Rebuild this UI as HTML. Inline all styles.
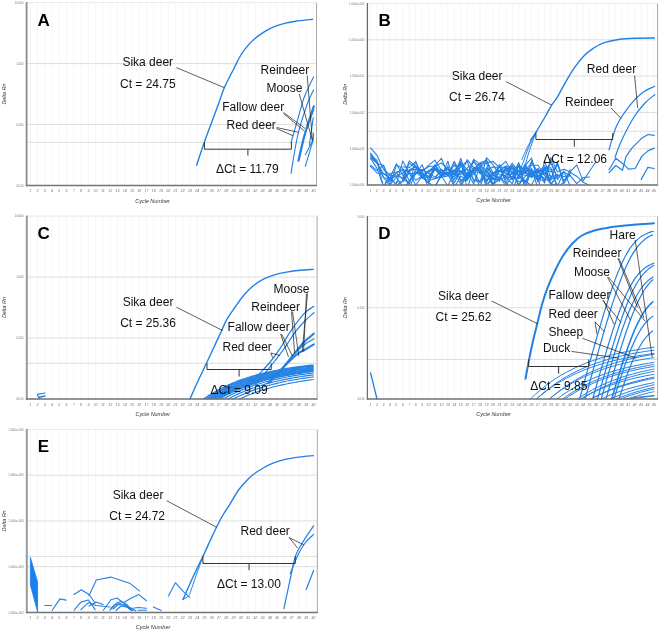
<!DOCTYPE html>
<html><head><meta charset="utf-8"><style>
html,body{margin:0;padding:0;background:#fff;}
svg{display:block;font-family:"Liberation Sans",sans-serif;will-change:transform;}
</style></head><body>
<svg width="660" height="632" viewBox="0 0 660 632">
<rect width="660" height="632" fill="#fff"/>
<path d="M30.30 2.70V185.50M37.56 2.70V185.50M44.82 2.70V185.50M52.08 2.70V185.50M59.34 2.70V185.50M66.60 2.70V185.50M73.86 2.70V185.50M81.12 2.70V185.50M88.38 2.70V185.50M95.64 2.70V185.50M102.90 2.70V185.50M110.16 2.70V185.50M117.42 2.70V185.50M124.68 2.70V185.50M131.94 2.70V185.50M139.20 2.70V185.50M146.46 2.70V185.50M153.72 2.70V185.50M160.98 2.70V185.50M168.24 2.70V185.50M175.50 2.70V185.50M182.76 2.70V185.50M190.02 2.70V185.50M197.28 2.70V185.50M204.54 2.70V185.50M211.80 2.70V185.50M219.06 2.70V185.50M226.32 2.70V185.50M233.58 2.70V185.50M240.84 2.70V185.50M248.10 2.70V185.50M255.36 2.70V185.50M262.62 2.70V185.50M269.88 2.70V185.50M277.14 2.70V185.50M284.40 2.70V185.50M291.66 2.70V185.50M298.92 2.70V185.50M306.18 2.70V185.50M313.44 2.70V185.50" stroke="#f6f6f6" stroke-width="1" fill="none"/>
<path d="M26.50 63.63H316.50M26.50 124.57H316.50M26.50 185.50H316.50" stroke="#dedede" stroke-width="1" fill="none"/>
<path d="M26.50 142.30H316.50" stroke="#d8dfd8" stroke-width="1" fill="none"/>
<path d="M316.50 2.70V185.50" stroke="#a8a8a8" stroke-width="1" fill="none"/>
<text x="23.40" y="3.80" font-size="2.9" text-anchor="end" fill="#777">10.000</text>
<text x="23.40" y="64.73" font-size="2.9" text-anchor="end" fill="#777">1.000</text>
<text x="23.40" y="125.67" font-size="2.9" text-anchor="end" fill="#777">0.100</text>
<text x="23.40" y="186.60" font-size="2.9" text-anchor="end" fill="#777">0.010</text>
<text x="30.30" y="192.00" font-size="3.6" font-style="italic" text-anchor="middle" fill="#777">1</text>
<text x="37.56" y="192.00" font-size="3.6" font-style="italic" text-anchor="middle" fill="#777">2</text>
<text x="44.82" y="192.00" font-size="3.6" font-style="italic" text-anchor="middle" fill="#777">3</text>
<text x="52.08" y="192.00" font-size="3.6" font-style="italic" text-anchor="middle" fill="#777">4</text>
<text x="59.34" y="192.00" font-size="3.6" font-style="italic" text-anchor="middle" fill="#777">5</text>
<text x="66.60" y="192.00" font-size="3.6" font-style="italic" text-anchor="middle" fill="#777">6</text>
<text x="73.86" y="192.00" font-size="3.6" font-style="italic" text-anchor="middle" fill="#777">7</text>
<text x="81.12" y="192.00" font-size="3.6" font-style="italic" text-anchor="middle" fill="#777">8</text>
<text x="88.38" y="192.00" font-size="3.6" font-style="italic" text-anchor="middle" fill="#777">9</text>
<text x="95.64" y="192.00" font-size="3.6" font-style="italic" text-anchor="middle" fill="#777">10</text>
<text x="102.90" y="192.00" font-size="3.6" font-style="italic" text-anchor="middle" fill="#777">11</text>
<text x="110.16" y="192.00" font-size="3.6" font-style="italic" text-anchor="middle" fill="#777">12</text>
<text x="117.42" y="192.00" font-size="3.6" font-style="italic" text-anchor="middle" fill="#777">13</text>
<text x="124.68" y="192.00" font-size="3.6" font-style="italic" text-anchor="middle" fill="#777">14</text>
<text x="131.94" y="192.00" font-size="3.6" font-style="italic" text-anchor="middle" fill="#777">15</text>
<text x="139.20" y="192.00" font-size="3.6" font-style="italic" text-anchor="middle" fill="#777">16</text>
<text x="146.46" y="192.00" font-size="3.6" font-style="italic" text-anchor="middle" fill="#777">17</text>
<text x="153.72" y="192.00" font-size="3.6" font-style="italic" text-anchor="middle" fill="#777">18</text>
<text x="160.98" y="192.00" font-size="3.6" font-style="italic" text-anchor="middle" fill="#777">19</text>
<text x="168.24" y="192.00" font-size="3.6" font-style="italic" text-anchor="middle" fill="#777">20</text>
<text x="175.50" y="192.00" font-size="3.6" font-style="italic" text-anchor="middle" fill="#777">21</text>
<text x="182.76" y="192.00" font-size="3.6" font-style="italic" text-anchor="middle" fill="#777">22</text>
<text x="190.02" y="192.00" font-size="3.6" font-style="italic" text-anchor="middle" fill="#777">23</text>
<text x="197.28" y="192.00" font-size="3.6" font-style="italic" text-anchor="middle" fill="#777">24</text>
<text x="204.54" y="192.00" font-size="3.6" font-style="italic" text-anchor="middle" fill="#777">25</text>
<text x="211.80" y="192.00" font-size="3.6" font-style="italic" text-anchor="middle" fill="#777">26</text>
<text x="219.06" y="192.00" font-size="3.6" font-style="italic" text-anchor="middle" fill="#777">27</text>
<text x="226.32" y="192.00" font-size="3.6" font-style="italic" text-anchor="middle" fill="#777">28</text>
<text x="233.58" y="192.00" font-size="3.6" font-style="italic" text-anchor="middle" fill="#777">29</text>
<text x="240.84" y="192.00" font-size="3.6" font-style="italic" text-anchor="middle" fill="#777">30</text>
<text x="248.10" y="192.00" font-size="3.6" font-style="italic" text-anchor="middle" fill="#777">31</text>
<text x="255.36" y="192.00" font-size="3.6" font-style="italic" text-anchor="middle" fill="#777">32</text>
<text x="262.62" y="192.00" font-size="3.6" font-style="italic" text-anchor="middle" fill="#777">33</text>
<text x="269.88" y="192.00" font-size="3.6" font-style="italic" text-anchor="middle" fill="#777">34</text>
<text x="277.14" y="192.00" font-size="3.6" font-style="italic" text-anchor="middle" fill="#777">35</text>
<text x="284.40" y="192.00" font-size="3.6" font-style="italic" text-anchor="middle" fill="#777">36</text>
<text x="291.66" y="192.00" font-size="3.6" font-style="italic" text-anchor="middle" fill="#777">37</text>
<text x="298.92" y="192.00" font-size="3.6" font-style="italic" text-anchor="middle" fill="#777">38</text>
<text x="306.18" y="192.00" font-size="3.6" font-style="italic" text-anchor="middle" fill="#777">39</text>
<text x="313.44" y="192.00" font-size="3.6" font-style="italic" text-anchor="middle" fill="#777">40</text>
<text transform="translate(6.00 94.10) rotate(-90)" font-size="5.4" font-style="italic" text-anchor="middle" fill="#333">Delta Rn</text>
<text x="152.50" y="202.50" font-size="5.45" font-style="italic" text-anchor="middle" fill="#333">Cycle Number</text>
<path d="M370.60 3.50V185.00M377.04 3.50V185.00M383.48 3.50V185.00M389.92 3.50V185.00M396.36 3.50V185.00M402.80 3.50V185.00M409.24 3.50V185.00M415.68 3.50V185.00M422.12 3.50V185.00M428.56 3.50V185.00M435.00 3.50V185.00M441.44 3.50V185.00M447.88 3.50V185.00M454.32 3.50V185.00M460.76 3.50V185.00M467.20 3.50V185.00M473.64 3.50V185.00M480.08 3.50V185.00M486.52 3.50V185.00M492.96 3.50V185.00M499.40 3.50V185.00M505.84 3.50V185.00M512.28 3.50V185.00M518.72 3.50V185.00M525.16 3.50V185.00M531.60 3.50V185.00M538.04 3.50V185.00M544.48 3.50V185.00M550.92 3.50V185.00M557.36 3.50V185.00M563.80 3.50V185.00M570.24 3.50V185.00M576.68 3.50V185.00M583.12 3.50V185.00M589.56 3.50V185.00M596.00 3.50V185.00M602.44 3.50V185.00M608.88 3.50V185.00M615.32 3.50V185.00M621.76 3.50V185.00M628.20 3.50V185.00M634.64 3.50V185.00M641.08 3.50V185.00M647.52 3.50V185.00M653.96 3.50V185.00" stroke="#f6f6f6" stroke-width="1" fill="none"/>
<path d="M367.50 39.80H657.60M367.50 76.10H657.60M367.50 112.40H657.60M367.50 148.70H657.60M367.50 185.00H657.60" stroke="#dedede" stroke-width="1" fill="none"/>
<path d="M367.50 131.30H657.60" stroke="#d8dfd8" stroke-width="1" fill="none"/>
<path d="M657.60 3.50V185.00" stroke="#a8a8a8" stroke-width="1" fill="none"/>
<text x="364.40" y="4.60" font-size="2.9" text-anchor="end" fill="#777">1.000e+001</text>
<text x="364.40" y="40.90" font-size="2.9" text-anchor="end" fill="#777">1.000e+000</text>
<text x="364.40" y="77.20" font-size="2.9" text-anchor="end" fill="#777">1.000e-001</text>
<text x="364.40" y="113.50" font-size="2.9" text-anchor="end" fill="#777">1.000e-002</text>
<text x="364.40" y="149.80" font-size="2.9" text-anchor="end" fill="#777">1.000e-003</text>
<text x="364.40" y="186.10" font-size="2.9" text-anchor="end" fill="#777">1.000e-004</text>
<text x="370.60" y="191.50" font-size="3.6" font-style="italic" text-anchor="middle" fill="#777">1</text>
<text x="377.04" y="191.50" font-size="3.6" font-style="italic" text-anchor="middle" fill="#777">2</text>
<text x="383.48" y="191.50" font-size="3.6" font-style="italic" text-anchor="middle" fill="#777">3</text>
<text x="389.92" y="191.50" font-size="3.6" font-style="italic" text-anchor="middle" fill="#777">4</text>
<text x="396.36" y="191.50" font-size="3.6" font-style="italic" text-anchor="middle" fill="#777">5</text>
<text x="402.80" y="191.50" font-size="3.6" font-style="italic" text-anchor="middle" fill="#777">6</text>
<text x="409.24" y="191.50" font-size="3.6" font-style="italic" text-anchor="middle" fill="#777">7</text>
<text x="415.68" y="191.50" font-size="3.6" font-style="italic" text-anchor="middle" fill="#777">8</text>
<text x="422.12" y="191.50" font-size="3.6" font-style="italic" text-anchor="middle" fill="#777">9</text>
<text x="428.56" y="191.50" font-size="3.6" font-style="italic" text-anchor="middle" fill="#777">10</text>
<text x="435.00" y="191.50" font-size="3.6" font-style="italic" text-anchor="middle" fill="#777">11</text>
<text x="441.44" y="191.50" font-size="3.6" font-style="italic" text-anchor="middle" fill="#777">12</text>
<text x="447.88" y="191.50" font-size="3.6" font-style="italic" text-anchor="middle" fill="#777">13</text>
<text x="454.32" y="191.50" font-size="3.6" font-style="italic" text-anchor="middle" fill="#777">14</text>
<text x="460.76" y="191.50" font-size="3.6" font-style="italic" text-anchor="middle" fill="#777">15</text>
<text x="467.20" y="191.50" font-size="3.6" font-style="italic" text-anchor="middle" fill="#777">16</text>
<text x="473.64" y="191.50" font-size="3.6" font-style="italic" text-anchor="middle" fill="#777">17</text>
<text x="480.08" y="191.50" font-size="3.6" font-style="italic" text-anchor="middle" fill="#777">18</text>
<text x="486.52" y="191.50" font-size="3.6" font-style="italic" text-anchor="middle" fill="#777">19</text>
<text x="492.96" y="191.50" font-size="3.6" font-style="italic" text-anchor="middle" fill="#777">20</text>
<text x="499.40" y="191.50" font-size="3.6" font-style="italic" text-anchor="middle" fill="#777">21</text>
<text x="505.84" y="191.50" font-size="3.6" font-style="italic" text-anchor="middle" fill="#777">22</text>
<text x="512.28" y="191.50" font-size="3.6" font-style="italic" text-anchor="middle" fill="#777">23</text>
<text x="518.72" y="191.50" font-size="3.6" font-style="italic" text-anchor="middle" fill="#777">24</text>
<text x="525.16" y="191.50" font-size="3.6" font-style="italic" text-anchor="middle" fill="#777">25</text>
<text x="531.60" y="191.50" font-size="3.6" font-style="italic" text-anchor="middle" fill="#777">26</text>
<text x="538.04" y="191.50" font-size="3.6" font-style="italic" text-anchor="middle" fill="#777">27</text>
<text x="544.48" y="191.50" font-size="3.6" font-style="italic" text-anchor="middle" fill="#777">28</text>
<text x="550.92" y="191.50" font-size="3.6" font-style="italic" text-anchor="middle" fill="#777">29</text>
<text x="557.36" y="191.50" font-size="3.6" font-style="italic" text-anchor="middle" fill="#777">30</text>
<text x="563.80" y="191.50" font-size="3.6" font-style="italic" text-anchor="middle" fill="#777">31</text>
<text x="570.24" y="191.50" font-size="3.6" font-style="italic" text-anchor="middle" fill="#777">32</text>
<text x="576.68" y="191.50" font-size="3.6" font-style="italic" text-anchor="middle" fill="#777">33</text>
<text x="583.12" y="191.50" font-size="3.6" font-style="italic" text-anchor="middle" fill="#777">34</text>
<text x="589.56" y="191.50" font-size="3.6" font-style="italic" text-anchor="middle" fill="#777">35</text>
<text x="596.00" y="191.50" font-size="3.6" font-style="italic" text-anchor="middle" fill="#777">36</text>
<text x="602.44" y="191.50" font-size="3.6" font-style="italic" text-anchor="middle" fill="#777">37</text>
<text x="608.88" y="191.50" font-size="3.6" font-style="italic" text-anchor="middle" fill="#777">38</text>
<text x="615.32" y="191.50" font-size="3.6" font-style="italic" text-anchor="middle" fill="#777">39</text>
<text x="621.76" y="191.50" font-size="3.6" font-style="italic" text-anchor="middle" fill="#777">40</text>
<text x="628.20" y="191.50" font-size="3.6" font-style="italic" text-anchor="middle" fill="#777">41</text>
<text x="634.64" y="191.50" font-size="3.6" font-style="italic" text-anchor="middle" fill="#777">42</text>
<text x="641.08" y="191.50" font-size="3.6" font-style="italic" text-anchor="middle" fill="#777">43</text>
<text x="647.52" y="191.50" font-size="3.6" font-style="italic" text-anchor="middle" fill="#777">44</text>
<text x="653.96" y="191.50" font-size="3.6" font-style="italic" text-anchor="middle" fill="#777">45</text>
<text transform="translate(347.00 94.25) rotate(-90)" font-size="5.4" font-style="italic" text-anchor="middle" fill="#333">Delta Rn</text>
<text x="493.55" y="202.00" font-size="5.45" font-style="italic" text-anchor="middle" fill="#333">Cycle Number</text>
<path d="M30.30 216.10V399.00M37.56 216.10V399.00M44.82 216.10V399.00M52.08 216.10V399.00M59.34 216.10V399.00M66.60 216.10V399.00M73.86 216.10V399.00M81.12 216.10V399.00M88.38 216.10V399.00M95.64 216.10V399.00M102.90 216.10V399.00M110.16 216.10V399.00M117.42 216.10V399.00M124.68 216.10V399.00M131.94 216.10V399.00M139.20 216.10V399.00M146.46 216.10V399.00M153.72 216.10V399.00M160.98 216.10V399.00M168.24 216.10V399.00M175.50 216.10V399.00M182.76 216.10V399.00M190.02 216.10V399.00M197.28 216.10V399.00M204.54 216.10V399.00M211.80 216.10V399.00M219.06 216.10V399.00M226.32 216.10V399.00M233.58 216.10V399.00M240.84 216.10V399.00M248.10 216.10V399.00M255.36 216.10V399.00M262.62 216.10V399.00M269.88 216.10V399.00M277.14 216.10V399.00M284.40 216.10V399.00M291.66 216.10V399.00M298.92 216.10V399.00M306.18 216.10V399.00M313.44 216.10V399.00" stroke="#f6f6f6" stroke-width="1" fill="none"/>
<path d="M26.50 277.07H317.10M26.50 338.03H317.10M26.50 399.00H317.10" stroke="#dedede" stroke-width="1" fill="none"/>
<path d="M26.50 363.30H317.10" stroke="#d8dfd8" stroke-width="1" fill="none"/>
<path d="M317.10 216.10V399.00" stroke="#a8a8a8" stroke-width="1" fill="none"/>
<text x="23.40" y="217.20" font-size="2.9" text-anchor="end" fill="#777">10.000</text>
<text x="23.40" y="278.17" font-size="2.9" text-anchor="end" fill="#777">1.000</text>
<text x="23.40" y="339.13" font-size="2.9" text-anchor="end" fill="#777">0.100</text>
<text x="23.40" y="400.10" font-size="2.9" text-anchor="end" fill="#777">0.010</text>
<text x="30.30" y="405.50" font-size="3.6" font-style="italic" text-anchor="middle" fill="#777">1</text>
<text x="37.56" y="405.50" font-size="3.6" font-style="italic" text-anchor="middle" fill="#777">2</text>
<text x="44.82" y="405.50" font-size="3.6" font-style="italic" text-anchor="middle" fill="#777">3</text>
<text x="52.08" y="405.50" font-size="3.6" font-style="italic" text-anchor="middle" fill="#777">4</text>
<text x="59.34" y="405.50" font-size="3.6" font-style="italic" text-anchor="middle" fill="#777">5</text>
<text x="66.60" y="405.50" font-size="3.6" font-style="italic" text-anchor="middle" fill="#777">6</text>
<text x="73.86" y="405.50" font-size="3.6" font-style="italic" text-anchor="middle" fill="#777">7</text>
<text x="81.12" y="405.50" font-size="3.6" font-style="italic" text-anchor="middle" fill="#777">8</text>
<text x="88.38" y="405.50" font-size="3.6" font-style="italic" text-anchor="middle" fill="#777">9</text>
<text x="95.64" y="405.50" font-size="3.6" font-style="italic" text-anchor="middle" fill="#777">10</text>
<text x="102.90" y="405.50" font-size="3.6" font-style="italic" text-anchor="middle" fill="#777">11</text>
<text x="110.16" y="405.50" font-size="3.6" font-style="italic" text-anchor="middle" fill="#777">12</text>
<text x="117.42" y="405.50" font-size="3.6" font-style="italic" text-anchor="middle" fill="#777">13</text>
<text x="124.68" y="405.50" font-size="3.6" font-style="italic" text-anchor="middle" fill="#777">14</text>
<text x="131.94" y="405.50" font-size="3.6" font-style="italic" text-anchor="middle" fill="#777">15</text>
<text x="139.20" y="405.50" font-size="3.6" font-style="italic" text-anchor="middle" fill="#777">16</text>
<text x="146.46" y="405.50" font-size="3.6" font-style="italic" text-anchor="middle" fill="#777">17</text>
<text x="153.72" y="405.50" font-size="3.6" font-style="italic" text-anchor="middle" fill="#777">18</text>
<text x="160.98" y="405.50" font-size="3.6" font-style="italic" text-anchor="middle" fill="#777">19</text>
<text x="168.24" y="405.50" font-size="3.6" font-style="italic" text-anchor="middle" fill="#777">20</text>
<text x="175.50" y="405.50" font-size="3.6" font-style="italic" text-anchor="middle" fill="#777">21</text>
<text x="182.76" y="405.50" font-size="3.6" font-style="italic" text-anchor="middle" fill="#777">22</text>
<text x="190.02" y="405.50" font-size="3.6" font-style="italic" text-anchor="middle" fill="#777">23</text>
<text x="197.28" y="405.50" font-size="3.6" font-style="italic" text-anchor="middle" fill="#777">24</text>
<text x="204.54" y="405.50" font-size="3.6" font-style="italic" text-anchor="middle" fill="#777">25</text>
<text x="211.80" y="405.50" font-size="3.6" font-style="italic" text-anchor="middle" fill="#777">26</text>
<text x="219.06" y="405.50" font-size="3.6" font-style="italic" text-anchor="middle" fill="#777">27</text>
<text x="226.32" y="405.50" font-size="3.6" font-style="italic" text-anchor="middle" fill="#777">28</text>
<text x="233.58" y="405.50" font-size="3.6" font-style="italic" text-anchor="middle" fill="#777">29</text>
<text x="240.84" y="405.50" font-size="3.6" font-style="italic" text-anchor="middle" fill="#777">30</text>
<text x="248.10" y="405.50" font-size="3.6" font-style="italic" text-anchor="middle" fill="#777">31</text>
<text x="255.36" y="405.50" font-size="3.6" font-style="italic" text-anchor="middle" fill="#777">32</text>
<text x="262.62" y="405.50" font-size="3.6" font-style="italic" text-anchor="middle" fill="#777">33</text>
<text x="269.88" y="405.50" font-size="3.6" font-style="italic" text-anchor="middle" fill="#777">34</text>
<text x="277.14" y="405.50" font-size="3.6" font-style="italic" text-anchor="middle" fill="#777">35</text>
<text x="284.40" y="405.50" font-size="3.6" font-style="italic" text-anchor="middle" fill="#777">36</text>
<text x="291.66" y="405.50" font-size="3.6" font-style="italic" text-anchor="middle" fill="#777">37</text>
<text x="298.92" y="405.50" font-size="3.6" font-style="italic" text-anchor="middle" fill="#777">38</text>
<text x="306.18" y="405.50" font-size="3.6" font-style="italic" text-anchor="middle" fill="#777">39</text>
<text x="313.44" y="405.50" font-size="3.6" font-style="italic" text-anchor="middle" fill="#777">40</text>
<text transform="translate(6.00 307.55) rotate(-90)" font-size="5.4" font-style="italic" text-anchor="middle" fill="#333">Delta Rn</text>
<text x="152.80" y="416.00" font-size="5.45" font-style="italic" text-anchor="middle" fill="#333">Cycle Number</text>
<path d="M370.60 216.40V399.00M377.04 216.40V399.00M383.48 216.40V399.00M389.92 216.40V399.00M396.36 216.40V399.00M402.80 216.40V399.00M409.24 216.40V399.00M415.68 216.40V399.00M422.12 216.40V399.00M428.56 216.40V399.00M435.00 216.40V399.00M441.44 216.40V399.00M447.88 216.40V399.00M454.32 216.40V399.00M460.76 216.40V399.00M467.20 216.40V399.00M473.64 216.40V399.00M480.08 216.40V399.00M486.52 216.40V399.00M492.96 216.40V399.00M499.40 216.40V399.00M505.84 216.40V399.00M512.28 216.40V399.00M518.72 216.40V399.00M525.16 216.40V399.00M531.60 216.40V399.00M538.04 216.40V399.00M544.48 216.40V399.00M550.92 216.40V399.00M557.36 216.40V399.00M563.80 216.40V399.00M570.24 216.40V399.00M576.68 216.40V399.00M583.12 216.40V399.00M589.56 216.40V399.00M596.00 216.40V399.00M602.44 216.40V399.00M608.88 216.40V399.00M615.32 216.40V399.00M621.76 216.40V399.00M628.20 216.40V399.00M634.64 216.40V399.00M641.08 216.40V399.00M647.52 216.40V399.00M653.96 216.40V399.00" stroke="#f6f6f6" stroke-width="1" fill="none"/>
<path d="M367.50 307.70H657.60M367.50 399.00H657.60" stroke="#dedede" stroke-width="1" fill="none"/>
<path d="M367.50 359.50H657.60" stroke="#d8dfd8" stroke-width="1" fill="none"/>
<path d="M657.60 216.40V399.00" stroke="#a8a8a8" stroke-width="1" fill="none"/>
<text x="364.40" y="217.50" font-size="2.9" text-anchor="end" fill="#777">1.000</text>
<text x="364.40" y="308.80" font-size="2.9" text-anchor="end" fill="#777">0.100</text>
<text x="364.40" y="400.10" font-size="2.9" text-anchor="end" fill="#777">0.010</text>
<text x="370.60" y="405.50" font-size="3.6" font-style="italic" text-anchor="middle" fill="#777">1</text>
<text x="377.04" y="405.50" font-size="3.6" font-style="italic" text-anchor="middle" fill="#777">2</text>
<text x="383.48" y="405.50" font-size="3.6" font-style="italic" text-anchor="middle" fill="#777">3</text>
<text x="389.92" y="405.50" font-size="3.6" font-style="italic" text-anchor="middle" fill="#777">4</text>
<text x="396.36" y="405.50" font-size="3.6" font-style="italic" text-anchor="middle" fill="#777">5</text>
<text x="402.80" y="405.50" font-size="3.6" font-style="italic" text-anchor="middle" fill="#777">6</text>
<text x="409.24" y="405.50" font-size="3.6" font-style="italic" text-anchor="middle" fill="#777">7</text>
<text x="415.68" y="405.50" font-size="3.6" font-style="italic" text-anchor="middle" fill="#777">8</text>
<text x="422.12" y="405.50" font-size="3.6" font-style="italic" text-anchor="middle" fill="#777">9</text>
<text x="428.56" y="405.50" font-size="3.6" font-style="italic" text-anchor="middle" fill="#777">10</text>
<text x="435.00" y="405.50" font-size="3.6" font-style="italic" text-anchor="middle" fill="#777">11</text>
<text x="441.44" y="405.50" font-size="3.6" font-style="italic" text-anchor="middle" fill="#777">12</text>
<text x="447.88" y="405.50" font-size="3.6" font-style="italic" text-anchor="middle" fill="#777">13</text>
<text x="454.32" y="405.50" font-size="3.6" font-style="italic" text-anchor="middle" fill="#777">14</text>
<text x="460.76" y="405.50" font-size="3.6" font-style="italic" text-anchor="middle" fill="#777">15</text>
<text x="467.20" y="405.50" font-size="3.6" font-style="italic" text-anchor="middle" fill="#777">16</text>
<text x="473.64" y="405.50" font-size="3.6" font-style="italic" text-anchor="middle" fill="#777">17</text>
<text x="480.08" y="405.50" font-size="3.6" font-style="italic" text-anchor="middle" fill="#777">18</text>
<text x="486.52" y="405.50" font-size="3.6" font-style="italic" text-anchor="middle" fill="#777">19</text>
<text x="492.96" y="405.50" font-size="3.6" font-style="italic" text-anchor="middle" fill="#777">20</text>
<text x="499.40" y="405.50" font-size="3.6" font-style="italic" text-anchor="middle" fill="#777">21</text>
<text x="505.84" y="405.50" font-size="3.6" font-style="italic" text-anchor="middle" fill="#777">22</text>
<text x="512.28" y="405.50" font-size="3.6" font-style="italic" text-anchor="middle" fill="#777">23</text>
<text x="518.72" y="405.50" font-size="3.6" font-style="italic" text-anchor="middle" fill="#777">24</text>
<text x="525.16" y="405.50" font-size="3.6" font-style="italic" text-anchor="middle" fill="#777">25</text>
<text x="531.60" y="405.50" font-size="3.6" font-style="italic" text-anchor="middle" fill="#777">26</text>
<text x="538.04" y="405.50" font-size="3.6" font-style="italic" text-anchor="middle" fill="#777">27</text>
<text x="544.48" y="405.50" font-size="3.6" font-style="italic" text-anchor="middle" fill="#777">28</text>
<text x="550.92" y="405.50" font-size="3.6" font-style="italic" text-anchor="middle" fill="#777">29</text>
<text x="557.36" y="405.50" font-size="3.6" font-style="italic" text-anchor="middle" fill="#777">30</text>
<text x="563.80" y="405.50" font-size="3.6" font-style="italic" text-anchor="middle" fill="#777">31</text>
<text x="570.24" y="405.50" font-size="3.6" font-style="italic" text-anchor="middle" fill="#777">32</text>
<text x="576.68" y="405.50" font-size="3.6" font-style="italic" text-anchor="middle" fill="#777">33</text>
<text x="583.12" y="405.50" font-size="3.6" font-style="italic" text-anchor="middle" fill="#777">34</text>
<text x="589.56" y="405.50" font-size="3.6" font-style="italic" text-anchor="middle" fill="#777">35</text>
<text x="596.00" y="405.50" font-size="3.6" font-style="italic" text-anchor="middle" fill="#777">36</text>
<text x="602.44" y="405.50" font-size="3.6" font-style="italic" text-anchor="middle" fill="#777">37</text>
<text x="608.88" y="405.50" font-size="3.6" font-style="italic" text-anchor="middle" fill="#777">38</text>
<text x="615.32" y="405.50" font-size="3.6" font-style="italic" text-anchor="middle" fill="#777">39</text>
<text x="621.76" y="405.50" font-size="3.6" font-style="italic" text-anchor="middle" fill="#777">40</text>
<text x="628.20" y="405.50" font-size="3.6" font-style="italic" text-anchor="middle" fill="#777">41</text>
<text x="634.64" y="405.50" font-size="3.6" font-style="italic" text-anchor="middle" fill="#777">42</text>
<text x="641.08" y="405.50" font-size="3.6" font-style="italic" text-anchor="middle" fill="#777">43</text>
<text x="647.52" y="405.50" font-size="3.6" font-style="italic" text-anchor="middle" fill="#777">44</text>
<text x="653.96" y="405.50" font-size="3.6" font-style="italic" text-anchor="middle" fill="#777">45</text>
<text transform="translate(347.00 307.70) rotate(-90)" font-size="5.4" font-style="italic" text-anchor="middle" fill="#333">Delta Rn</text>
<text x="493.55" y="416.00" font-size="5.45" font-style="italic" text-anchor="middle" fill="#333">Cycle Number</text>
<path d="M30.30 429.40V612.40M37.56 429.40V612.40M44.82 429.40V612.40M52.08 429.40V612.40M59.34 429.40V612.40M66.60 429.40V612.40M73.86 429.40V612.40M81.12 429.40V612.40M88.38 429.40V612.40M95.64 429.40V612.40M102.90 429.40V612.40M110.16 429.40V612.40M117.42 429.40V612.40M124.68 429.40V612.40M131.94 429.40V612.40M139.20 429.40V612.40M146.46 429.40V612.40M153.72 429.40V612.40M160.98 429.40V612.40M168.24 429.40V612.40M175.50 429.40V612.40M182.76 429.40V612.40M190.02 429.40V612.40M197.28 429.40V612.40M204.54 429.40V612.40M211.80 429.40V612.40M219.06 429.40V612.40M226.32 429.40V612.40M233.58 429.40V612.40M240.84 429.40V612.40M248.10 429.40V612.40M255.36 429.40V612.40M262.62 429.40V612.40M269.88 429.40V612.40M277.14 429.40V612.40M284.40 429.40V612.40M291.66 429.40V612.40M298.92 429.40V612.40M306.18 429.40V612.40M313.44 429.40V612.40" stroke="#f6f6f6" stroke-width="1" fill="none"/>
<path d="M26.70 475.15H317.30M26.70 520.90H317.30M26.70 566.65H317.30M26.70 612.40H317.30" stroke="#dedede" stroke-width="1" fill="none"/>
<path d="M26.70 556.40H317.30" stroke="#d8dfd8" stroke-width="1" fill="none"/>
<path d="M317.30 429.40V612.40" stroke="#a8a8a8" stroke-width="1" fill="none"/>
<text x="23.60" y="430.50" font-size="2.9" text-anchor="end" fill="#777">1.000e+006</text>
<text x="23.60" y="476.25" font-size="2.9" text-anchor="end" fill="#777">1.000e+005</text>
<text x="23.60" y="522.00" font-size="2.9" text-anchor="end" fill="#777">1.000e+004</text>
<text x="23.60" y="567.75" font-size="2.9" text-anchor="end" fill="#777">1.000e+003</text>
<text x="23.60" y="613.50" font-size="2.9" text-anchor="end" fill="#777">1.000e+002</text>
<text x="30.30" y="618.90" font-size="3.6" font-style="italic" text-anchor="middle" fill="#777">1</text>
<text x="37.56" y="618.90" font-size="3.6" font-style="italic" text-anchor="middle" fill="#777">2</text>
<text x="44.82" y="618.90" font-size="3.6" font-style="italic" text-anchor="middle" fill="#777">3</text>
<text x="52.08" y="618.90" font-size="3.6" font-style="italic" text-anchor="middle" fill="#777">4</text>
<text x="59.34" y="618.90" font-size="3.6" font-style="italic" text-anchor="middle" fill="#777">5</text>
<text x="66.60" y="618.90" font-size="3.6" font-style="italic" text-anchor="middle" fill="#777">6</text>
<text x="73.86" y="618.90" font-size="3.6" font-style="italic" text-anchor="middle" fill="#777">7</text>
<text x="81.12" y="618.90" font-size="3.6" font-style="italic" text-anchor="middle" fill="#777">8</text>
<text x="88.38" y="618.90" font-size="3.6" font-style="italic" text-anchor="middle" fill="#777">9</text>
<text x="95.64" y="618.90" font-size="3.6" font-style="italic" text-anchor="middle" fill="#777">10</text>
<text x="102.90" y="618.90" font-size="3.6" font-style="italic" text-anchor="middle" fill="#777">11</text>
<text x="110.16" y="618.90" font-size="3.6" font-style="italic" text-anchor="middle" fill="#777">12</text>
<text x="117.42" y="618.90" font-size="3.6" font-style="italic" text-anchor="middle" fill="#777">13</text>
<text x="124.68" y="618.90" font-size="3.6" font-style="italic" text-anchor="middle" fill="#777">14</text>
<text x="131.94" y="618.90" font-size="3.6" font-style="italic" text-anchor="middle" fill="#777">15</text>
<text x="139.20" y="618.90" font-size="3.6" font-style="italic" text-anchor="middle" fill="#777">16</text>
<text x="146.46" y="618.90" font-size="3.6" font-style="italic" text-anchor="middle" fill="#777">17</text>
<text x="153.72" y="618.90" font-size="3.6" font-style="italic" text-anchor="middle" fill="#777">18</text>
<text x="160.98" y="618.90" font-size="3.6" font-style="italic" text-anchor="middle" fill="#777">19</text>
<text x="168.24" y="618.90" font-size="3.6" font-style="italic" text-anchor="middle" fill="#777">20</text>
<text x="175.50" y="618.90" font-size="3.6" font-style="italic" text-anchor="middle" fill="#777">21</text>
<text x="182.76" y="618.90" font-size="3.6" font-style="italic" text-anchor="middle" fill="#777">22</text>
<text x="190.02" y="618.90" font-size="3.6" font-style="italic" text-anchor="middle" fill="#777">23</text>
<text x="197.28" y="618.90" font-size="3.6" font-style="italic" text-anchor="middle" fill="#777">24</text>
<text x="204.54" y="618.90" font-size="3.6" font-style="italic" text-anchor="middle" fill="#777">25</text>
<text x="211.80" y="618.90" font-size="3.6" font-style="italic" text-anchor="middle" fill="#777">26</text>
<text x="219.06" y="618.90" font-size="3.6" font-style="italic" text-anchor="middle" fill="#777">27</text>
<text x="226.32" y="618.90" font-size="3.6" font-style="italic" text-anchor="middle" fill="#777">28</text>
<text x="233.58" y="618.90" font-size="3.6" font-style="italic" text-anchor="middle" fill="#777">29</text>
<text x="240.84" y="618.90" font-size="3.6" font-style="italic" text-anchor="middle" fill="#777">30</text>
<text x="248.10" y="618.90" font-size="3.6" font-style="italic" text-anchor="middle" fill="#777">31</text>
<text x="255.36" y="618.90" font-size="3.6" font-style="italic" text-anchor="middle" fill="#777">32</text>
<text x="262.62" y="618.90" font-size="3.6" font-style="italic" text-anchor="middle" fill="#777">33</text>
<text x="269.88" y="618.90" font-size="3.6" font-style="italic" text-anchor="middle" fill="#777">34</text>
<text x="277.14" y="618.90" font-size="3.6" font-style="italic" text-anchor="middle" fill="#777">35</text>
<text x="284.40" y="618.90" font-size="3.6" font-style="italic" text-anchor="middle" fill="#777">36</text>
<text x="291.66" y="618.90" font-size="3.6" font-style="italic" text-anchor="middle" fill="#777">37</text>
<text x="298.92" y="618.90" font-size="3.6" font-style="italic" text-anchor="middle" fill="#777">38</text>
<text x="306.18" y="618.90" font-size="3.6" font-style="italic" text-anchor="middle" fill="#777">39</text>
<text x="313.44" y="618.90" font-size="3.6" font-style="italic" text-anchor="middle" fill="#777">40</text>
<text transform="translate(6.20 520.90) rotate(-90)" font-size="5.4" font-style="italic" text-anchor="middle" fill="#333">Delta Rn</text>
<text x="153.00" y="629.40" font-size="5.45" font-style="italic" text-anchor="middle" fill="#333">Cycle Number</text>
<path d="M196.60 165.20 C197.90 161.32 201.80 149.28 204.40 141.90 C207.00 134.52 209.85 127.22 212.20 120.90 C214.55 114.58 216.48 109.53 218.50 104.00 C220.52 98.47 221.67 93.75 224.30 87.70 C226.93 81.65 231.53 73.15 234.30 67.70 C237.07 62.25 238.43 58.93 240.90 55.00 C243.37 51.07 246.37 47.17 249.10 44.10 C251.83 41.03 254.57 38.77 257.30 36.60 C260.03 34.43 262.55 32.80 265.50 31.10 C268.45 29.40 271.82 27.68 275.00 26.40 C278.18 25.12 281.18 24.25 284.60 23.40 C288.02 22.55 290.85 21.98 295.50 21.30 C300.15 20.62 309.67 19.63 312.50 19.30" stroke="#2280e4" stroke-width="1.4" fill="none" stroke-linejoin="round" stroke-linecap="round"/>
<path d="M291.00 173.40 C292.13 167.00 295.15 146.40 297.80 135.00 C300.45 123.60 304.28 112.50 306.90 105.00 C309.52 97.50 312.40 92.50 313.50 90.00" stroke="#2280e4" stroke-width="1.1" fill="none" stroke-linejoin="round" stroke-linecap="round"/>
<path d="M291.00 142.80 C292.80 136.50 299.47 112.92 301.80 105.00 C304.13 97.08 303.05 99.97 305.00 95.30 C306.95 90.63 312.08 80.05 313.50 77.00" stroke="#2280e4" stroke-width="1.1" fill="none" stroke-linejoin="round" stroke-linecap="round"/>
<path d="M298.50 160.60 C299.52 156.33 302.05 144.05 304.60 135.00 C307.15 125.95 312.27 111.08 313.80 106.30" stroke="#2280e4" stroke-width="2.2" fill="none" stroke-linejoin="round" stroke-linecap="round"/>
<path d="M299.50 158.00 C300.50 153.83 303.12 141.00 305.50 133.00 C307.88 125.00 312.42 113.83 313.80 110.00" stroke="#2280e4" stroke-width="1.0" fill="none" stroke-linejoin="round" stroke-linecap="round"/>
<path d="M305.30 154.60 C306.53 152.22 311.33 143.90 312.70 140.30 C314.07 136.70 313.37 134.22 313.50 133.00" stroke="#2280e4" stroke-width="1.1" fill="none" stroke-linejoin="round" stroke-linecap="round"/>
<path d="M305.30 166.30 L313.10 140.30" stroke="#2280e4" stroke-width="1.1" fill="none" stroke-linejoin="round" stroke-linecap="round"/>
<path d="M309.40 145.00 L313.20 117.70" stroke="#2280e4" stroke-width="1.1" fill="none" stroke-linejoin="round" stroke-linecap="round"/>
<path d="M176.40 67.60 L224.20 87.60" stroke="#1a1a1a" stroke-width="0.7" fill="none"/>
<path d="M307.20 75.40 L312.40 140.50" stroke="#1a1a1a" stroke-width="0.7" fill="none"/>
<path d="M299.30 94.00 L312.40 140.50" stroke="#1a1a1a" stroke-width="0.7" fill="none"/>
<path d="M283.50 112.50 L305.00 128.40" stroke="#1a1a1a" stroke-width="0.7" fill="none"/>
<path d="M283.50 113.50 L304.40 131.00" stroke="#1a1a1a" stroke-width="0.7" fill="none"/>
<path d="M276.50 127.50 L298.00 132.20" stroke="#1a1a1a" stroke-width="0.7" fill="none"/>
<path d="M276.50 128.50 L293.00 135.70" stroke="#1a1a1a" stroke-width="0.7" fill="none"/>
<path d="M204.40 142.30V149.20H291.40V142.30M247.90 149.20V155.50" stroke="#333" stroke-width="1" fill="none"/>
<path d="M530.60 140.10 C531.48 138.82 533.50 136.25 535.90 132.40 C538.30 128.55 542.35 121.58 545.00 117.00 C547.65 112.42 549.87 108.00 551.80 104.90 C553.73 101.80 554.48 101.87 556.60 98.40 C558.72 94.93 561.58 89.13 564.50 84.10 C567.42 79.07 570.92 72.85 574.10 68.20 C577.28 63.55 580.42 59.52 583.60 56.20 C586.78 52.88 589.75 50.55 593.20 48.30 C596.65 46.05 600.07 44.17 604.30 42.70 C608.53 41.23 613.57 40.23 618.60 39.50 C623.63 38.77 628.53 38.55 634.50 38.30 C640.47 38.05 651.08 38.05 654.40 38.00" stroke="#2280e4" stroke-width="1.4" fill="none" stroke-linejoin="round" stroke-linecap="round"/>
<path d="M517.60 177.90 C518.67 174.92 521.93 165.65 524.00 160.00 C526.07 154.35 528.02 148.60 530.00 144.00 C531.98 139.40 534.92 134.33 535.90 132.40" stroke="#2280e4" stroke-width="1" fill="none" stroke-linejoin="round" stroke-linecap="round"/>
<path d="M521.80 159.70 C522.83 157.42 525.65 150.55 528.00 146.00 C530.35 141.45 534.58 134.67 535.90 132.40" stroke="#2280e4" stroke-width="1" fill="none" stroke-linejoin="round" stroke-linecap="round"/>
<path d="M524.00 170.00 C524.83 167.00 527.02 158.27 529.00 152.00 C530.98 145.73 534.75 135.67 535.90 132.40" stroke="#2280e4" stroke-width="1" fill="none" stroke-linejoin="round" stroke-linecap="round"/>
<path d="M609.00 149.70 C610.33 145.58 613.45 132.47 617.00 125.00 C620.55 117.53 626.13 110.23 630.30 104.90 C634.47 99.57 637.93 96.12 642.00 93.00 C646.07 89.88 652.58 87.33 654.70 86.20" stroke="#2280e4" stroke-width="1.2" fill="none" stroke-linejoin="round" stroke-linecap="round"/>
<path d="M615.00 157.40 C616.13 154.50 618.63 146.73 621.80 140.00 C624.97 133.27 630.13 123.17 634.00 117.00 C637.87 110.83 641.55 106.72 645.00 103.00 C648.45 99.28 653.08 96.08 654.70 94.70" stroke="#2280e4" stroke-width="1.2" fill="none" stroke-linejoin="round" stroke-linecap="round"/>
<path d="M609.10 169.70 L615.80 158.20 L624.20 164.80 L628.50 169.10 L635.20 168.50 L641.80 156.40 L647.90 150.90 L654.20 148.10" stroke="#2280e4" stroke-width="1.2" fill="none" stroke-linejoin="round" stroke-linecap="round"/>
<path d="M609.10 172.70 L615.80 165.50 L622.40 170.30 L626.10 156.40 L632.10 147.90 L641.80 138.20 L647.90 134.50 L654.20 135.40" stroke="#2280e4" stroke-width="1.2" fill="none" stroke-linejoin="round" stroke-linecap="round"/>
<path d="M641.20 179.40 L647.90 167.30 L654.20 168.50" stroke="#2280e4" stroke-width="1.2" fill="none" stroke-linejoin="round" stroke-linecap="round"/>
<path d="M370.60 158.41 L377.04 168.36 L382.98 185.00" stroke="#2280e4" stroke-width="1.05" fill="none" stroke-linejoin="round" stroke-linecap="round"/>
<path d="M384.60 185.00 L389.92 178.38 L396.36 184.11 L402.80 160.97 L409.24 172.92 L415.62 185.00" stroke="#2280e4" stroke-width="1.05" fill="none" stroke-linejoin="round" stroke-linecap="round"/>
<path d="M415.76 185.00 L422.12 176.34 L428.56 183.21 L435.00 164.85 L441.44 172.97 L447.88 168.58 L454.32 174.29 L460.76 174.85 L467.20 159.67 L473.64 167.86 L480.08 169.33 L486.52 183.84 L492.96 179.03 L499.40 166.32 L505.84 179.86 L512.28 165.69 L518.72 175.70 L525.16 165.30 L531.60 157.98 L538.04 182.13 L544.48 167.67 L550.92 167.83 L556.48 185.00" stroke="#2280e4" stroke-width="1.05" fill="none" stroke-linejoin="round" stroke-linecap="round"/>
<path d="M560.51 185.00 L563.80 182.16 L570.24 169.55" stroke="#2280e4" stroke-width="1.05" fill="none" stroke-linejoin="round" stroke-linecap="round"/>
<path d="M370.60 154.52 L377.04 163.30 L383.48 165.73 L389.92 184.99 L396.36 177.24 L401.77 185.00" stroke="#2280e4" stroke-width="1.05" fill="none" stroke-linejoin="round" stroke-linecap="round"/>
<path d="M405.49 185.00 L409.24 182.94 L415.68 169.75 L422.12 171.02 L428.56 166.50 L435.00 165.90 L441.44 162.95 L447.88 169.80 L454.32 175.41 L460.76 158.36 L467.20 176.96 L473.64 170.56 L480.08 169.99 L486.52 180.46 L492.96 173.17 L499.40 170.11 L505.84 173.18 L512.28 177.56 L518.72 162.57 L524.61 185.00" stroke="#2280e4" stroke-width="1.05" fill="none" stroke-linejoin="round" stroke-linecap="round"/>
<path d="M525.67 185.00 L531.60 160.53 L538.04 178.63 L544.48 181.26 L550.92 160.14 L557.36 179.60 L563.80 171.11" stroke="#2280e4" stroke-width="1.05" fill="none" stroke-linejoin="round" stroke-linecap="round"/>
<path d="M370.60 153.13 L377.04 162.21 L383.48 177.46 L389.36 185.00" stroke="#2280e4" stroke-width="1.05" fill="none" stroke-linejoin="round" stroke-linecap="round"/>
<path d="M390.14 185.00 L396.36 165.05 L402.80 168.57 L409.24 180.49 L415.68 172.86 L422.12 173.73 L428.56 182.90 L435.00 168.68 L441.44 172.87 L447.88 175.15 L454.32 179.42 L460.76 171.14 L467.20 169.69 L473.64 172.35 L479.07 185.00" stroke="#2280e4" stroke-width="1.05" fill="none" stroke-linejoin="round" stroke-linecap="round"/>
<path d="M480.85 185.00 L486.52 167.65 L492.96 173.73 L499.40 171.05 L505.84 165.98 L512.28 169.25 L518.72 177.51 L525.16 164.08 L531.60 177.14 L538.04 169.91 L544.48 179.90" stroke="#2280e4" stroke-width="1.05" fill="none" stroke-linejoin="round" stroke-linecap="round"/>
<path d="M370.60 157.96 L377.04 163.05 L383.48 173.55 L389.92 177.91 L396.36 163.64 L402.80 175.37 L409.24 184.16 L415.68 161.16 L422.12 178.40 L428.56 170.68 L435.00 168.67 L441.44 176.38 L447.88 165.90 L453.60 185.00" stroke="#2280e4" stroke-width="1.05" fill="none" stroke-linejoin="round" stroke-linecap="round"/>
<path d="M455.70 185.00 L460.76 176.12 L467.20 179.98 L473.64 170.48 L480.08 167.61 L485.68 185.00" stroke="#2280e4" stroke-width="1.05" fill="none" stroke-linejoin="round" stroke-linecap="round"/>
<path d="M487.82 185.00 L492.96 174.67 L499.40 165.50 L505.84 183.04 L512.28 172.00 L518.72 166.58 L525.16 171.24 L531.60 162.65 L538.04 172.13 L544.48 165.76 L550.92 184.09 L557.36 175.76" stroke="#2280e4" stroke-width="1.05" fill="none" stroke-linejoin="round" stroke-linecap="round"/>
<path d="M370.60 166.47 L377.04 173.00 L383.48 173.67 L389.92 178.13 L396.36 173.14 L402.80 169.58 L409.24 171.82 L415.68 165.93 L422.12 171.32 L427.30 185.00" stroke="#2280e4" stroke-width="1.05" fill="none" stroke-linejoin="round" stroke-linecap="round"/>
<path d="M435.66 185.00 L441.44 175.89 L447.88 173.50 L454.32 170.57 L460.76 163.96 L467.20 169.17 L473.64 179.45 L480.08 181.99 L486.52 171.02 L492.96 179.56 L499.40 179.26 L505.84 177.33 L512.28 176.66 L518.72 178.87 L525.16 171.06 L531.60 177.55 L538.04 169.36 L544.48 173.26 L550.92 179.13 L557.36 177.25" stroke="#2280e4" stroke-width="1.05" fill="none" stroke-linejoin="round" stroke-linecap="round"/>
<path d="M370.60 165.27 L377.04 170.67 L383.48 165.00 L389.92 181.48 L396.36 173.06 L402.80 179.23 L409.24 170.32 L415.68 169.20 L422.12 169.53 L428.56 173.51 L435.00 176.87 L441.44 170.93 L447.88 169.21 L454.32 170.71 L460.76 184.82 L467.20 171.91 L473.64 184.11 L480.08 166.69 L486.52 181.98 L492.96 172.64 L499.40 171.08 L505.84 170.49 L512.28 165.78 L517.97 185.00" stroke="#2280e4" stroke-width="1.05" fill="none" stroke-linejoin="round" stroke-linecap="round"/>
<path d="M519.53 185.00 L525.16 167.40 L531.60 171.03 L538.04 181.54 L544.48 169.40 L550.92 163.55 L557.36 176.81 L563.80 172.05 L570.24 175.69" stroke="#2280e4" stroke-width="1.05" fill="none" stroke-linejoin="round" stroke-linecap="round"/>
<path d="M370.60 156.81 L377.04 163.02 L383.48 177.46 L389.92 179.26 L396.36 176.09 L402.80 177.92 L409.24 160.88 L415.68 166.33 L422.12 172.49 L428.56 176.37 L435.00 167.92 L441.44 177.14 L447.88 175.97 L454.32 161.77 L460.76 173.02 L467.20 168.09 L473.64 162.43 L480.08 165.52 L486.52 170.14 L492.96 166.94 L499.40 167.26 L505.84 161.40 L512.28 172.91 L518.72 171.38 L525.16 175.59 L531.60 175.16 L538.04 168.37 L544.48 183.30 L550.92 157.60 L557.36 171.85 L563.80 169.31 L570.24 171.94 L576.68 164.91 L583.12 180.84 L589.56 171.26 L596.00 161.43" stroke="#2280e4" stroke-width="1.05" fill="none" stroke-linejoin="round" stroke-linecap="round"/>
<path d="M370.60 147.85 L377.04 155.30 L383.48 169.50 L389.92 174.98 L395.80 185.00" stroke="#2280e4" stroke-width="1.05" fill="none" stroke-linejoin="round" stroke-linecap="round"/>
<path d="M397.47 185.00 L402.80 180.46 L409.24 172.10 L415.68 180.30 L422.12 176.20 L428.56 171.18 L435.00 165.79 L441.44 175.27 L447.88 174.66 L453.81 185.00" stroke="#2280e4" stroke-width="1.05" fill="none" stroke-linejoin="round" stroke-linecap="round"/>
<path d="M461.68 185.00 L467.20 175.52 L473.64 170.82 L480.08 182.93 L486.52 157.72 L492.96 164.66 L499.40 174.70 L505.84 175.65 L512.28 165.75 L518.72 175.94 L525.16 182.84 L531.60 171.30 L538.04 172.32 L544.48 168.10 L550.92 169.59 L556.65 185.00" stroke="#2280e4" stroke-width="1.05" fill="none" stroke-linejoin="round" stroke-linecap="round"/>
<path d="M558.15 185.00 L563.80 171.37 L569.75 185.00" stroke="#2280e4" stroke-width="1.05" fill="none" stroke-linejoin="round" stroke-linecap="round"/>
<path d="M370.60 155.50 L377.04 160.10 L382.90 185.00" stroke="#2280e4" stroke-width="1.05" fill="none" stroke-linejoin="round" stroke-linecap="round"/>
<path d="M384.61 185.00 L389.92 173.44 L396.36 172.03 L402.80 170.18 L408.19 185.00" stroke="#2280e4" stroke-width="1.05" fill="none" stroke-linejoin="round" stroke-linecap="round"/>
<path d="M410.52 185.00 L415.68 173.36 L422.12 169.48 L428.56 173.11 L435.00 165.14 L441.44 175.78 L447.88 172.53 L454.32 169.63 L460.76 179.44 L467.20 180.70 L473.64 159.68 L480.08 174.09 L486.52 169.20 L492.96 184.71 L499.40 179.45 L505.84 168.56 L512.28 169.07 L518.72 166.18 L524.18 185.00" stroke="#2280e4" stroke-width="1.05" fill="none" stroke-linejoin="round" stroke-linecap="round"/>
<path d="M526.32 185.00 L531.60 169.63 L538.04 175.51 L544.48 173.07 L550.92 176.26 L557.36 175.43" stroke="#2280e4" stroke-width="1.05" fill="none" stroke-linejoin="round" stroke-linecap="round"/>
<path d="M428.56 180.29 L435.00 165.49 L441.44 158.24 L447.88 174.46 L454.32 177.13 L460.76 164.65 L467.20 177.17 L473.64 167.20 L480.08 172.29 L486.52 180.15 L492.96 175.25 L499.40 177.20 L505.34 185.00" stroke="#2280e4" stroke-width="1.05" fill="none" stroke-linejoin="round" stroke-linecap="round"/>
<path d="M506.29 185.00 L512.28 176.34 L518.72 181.70 L525.16 181.14 L531.60 173.09 L538.04 177.06 L544.48 177.90 L550.92 183.13" stroke="#2280e4" stroke-width="1.05" fill="none" stroke-linejoin="round" stroke-linecap="round"/>
<path d="M389.92 175.01 L396.36 176.33 L402.80 173.03 L409.24 170.01 L415.68 166.49 L422.12 177.34 L428.56 182.75 L432.03 185.00" stroke="#2280e4" stroke-width="1.05" fill="none" stroke-linejoin="round" stroke-linecap="round"/>
<path d="M435.97 185.00 L441.44 174.18 L447.88 172.22 L454.32 174.25 L460.76 162.14 L467.20 178.21 L473.64 169.06 L480.08 163.81 L486.52 162.85 L492.95 185.00" stroke="#2280e4" stroke-width="1.05" fill="none" stroke-linejoin="round" stroke-linecap="round"/>
<path d="M492.98 185.00 L499.40 170.46 L505.84 172.28 L512.28 163.11 L518.72 171.85 L525.16 173.28 L531.60 165.19 L538.04 165.16 L544.48 175.64 L550.92 180.63" stroke="#2280e4" stroke-width="1.05" fill="none" stroke-linejoin="round" stroke-linecap="round"/>
<path d="M402.80 179.99 L409.24 163.05 L415.68 167.77 L422.12 174.51 L428.56 176.58 L435.00 178.52 L441.44 169.34 L447.88 174.80 L454.32 165.02 L460.76 171.72 L467.20 175.82 L473.64 159.33 L480.08 164.05 L486.52 177.13 L492.96 173.32 L499.40 170.87 L505.84 176.49 L512.28 183.78 L518.72 165.67 L525.16 169.66 L531.60 174.75 L538.04 176.96 L544.48 169.57 L550.90 185.00" stroke="#2280e4" stroke-width="1.05" fill="none" stroke-linejoin="round" stroke-linecap="round"/>
<path d="M550.94 185.00 L557.36 174.40" stroke="#2280e4" stroke-width="1.05" fill="none" stroke-linejoin="round" stroke-linecap="round"/>
<path d="M402.80 180.16 L409.24 181.86 L415.68 172.70 L422.12 171.55 L428.56 165.45 L435.00 160.19 L441.44 170.63 L447.88 174.84 L454.32 161.42 L460.76 181.86 L467.20 173.62 L473.64 172.71 L480.08 171.56 L486.52 172.86 L492.35 185.00" stroke="#2280e4" stroke-width="1.05" fill="none" stroke-linejoin="round" stroke-linecap="round"/>
<path d="M493.34 185.00 L499.40 164.65 L505.84 174.05 L512.28 174.26 L518.72 171.46 L525.16 181.36 L531.30 185.00" stroke="#2280e4" stroke-width="1.05" fill="none" stroke-linejoin="round" stroke-linecap="round"/>
<path d="M531.69 185.00 L538.04 172.28 L544.48 179.78 L550.92 178.62 L557.36 163.75 L563.80 183.64 L570.24 173.36" stroke="#2280e4" stroke-width="1.05" fill="none" stroke-linejoin="round" stroke-linecap="round"/>
<path d="M415.68 171.34 L422.12 177.97 L428.56 170.96 L435.00 169.69 L441.44 175.98 L447.16 185.00" stroke="#2280e4" stroke-width="1.05" fill="none" stroke-linejoin="round" stroke-linecap="round"/>
<path d="M448.36 185.00 L454.32 171.04 L460.76 161.45 L466.28 185.00" stroke="#2280e4" stroke-width="1.05" fill="none" stroke-linejoin="round" stroke-linecap="round"/>
<path d="M468.40 185.00 L473.64 167.81 L480.08 166.91 L486.52 162.87 L492.96 161.49 L499.40 167.07 L505.84 167.32 L512.28 173.33 L518.72 184.80 L525.16 176.60 L531.60 170.77 L538.04 172.24 L544.48 169.79 L550.92 184.67 L557.36 184.08" stroke="#2280e4" stroke-width="1.05" fill="none" stroke-linejoin="round" stroke-linecap="round"/>
<path d="M396.36 182.05 L402.80 182.04 L409.24 172.98 L415.68 174.44 L422.12 164.74 L428.56 180.46 L435.00 178.64 L441.44 176.83 L447.88 161.25 L454.32 183.04 L460.76 170.69 L467.20 178.68 L473.64 170.11 L480.08 162.66 L486.52 160.44 L492.96 172.76 L499.40 181.38 L505.84 166.21 L512.28 179.54 L518.72 170.28 L525.16 172.71 L531.60 168.43 L536.78 185.00" stroke="#2280e4" stroke-width="1.05" fill="none" stroke-linejoin="round" stroke-linecap="round"/>
<path d="M538.97 185.00 L544.48 161.27 L550.92 177.79 L557.36 174.87 L563.80 176.50 L570.24 175.70 L576.68 183.65 L583.12 177.60 L589.56 177.02" stroke="#2280e4" stroke-width="1.05" fill="none" stroke-linejoin="round" stroke-linecap="round"/>
<path d="M402.80 166.78 L409.24 167.66 L415.68 161.89 L422.12 175.52 L428.56 178.06 L435.00 169.14 L441.44 172.85 L447.88 172.70 L454.32 177.03 L460.76 166.61 L467.20 161.25 L473.64 180.97 L480.08 181.02 L486.52 174.69 L492.96 184.92 L499.40 177.83 L505.84 168.35 L512.28 180.03 L518.72 164.07 L525.16 173.01 L531.60 177.07 L538.04 176.24 L544.48 173.46 L550.92 179.44 L557.36 162.10 L563.80 180.90 L570.24 172.57 L576.68 176.17 L583.12 182.26 L588.61 185.00" stroke="#2280e4" stroke-width="1.05" fill="none" stroke-linejoin="round" stroke-linecap="round"/>
<path d="M435.00 178.15 L441.44 175.85 L447.88 172.49 L454.32 170.95 L460.76 172.17 L467.20 179.09 L473.64 173.90 L480.08 165.50 L486.52 159.59 L492.96 178.78 L499.40 177.20 L505.84 182.85 L507.64 185.00" stroke="#2280e4" stroke-width="1.05" fill="none" stroke-linejoin="round" stroke-linecap="round"/>
<path d="M514.51 185.00 L518.72 174.49 L525.16 165.69 L531.60 173.22 L538.04 179.39 L544.48 168.97 L550.92 171.80 L557.36 165.50" stroke="#2280e4" stroke-width="1.05" fill="none" stroke-linejoin="round" stroke-linecap="round"/>
<path d="M505.90 81.60 L551.50 105.00" stroke="#1a1a1a" stroke-width="0.7" fill="none"/>
<path d="M634.60 75.60 L637.70 108.00" stroke="#1a1a1a" stroke-width="0.7" fill="none"/>
<path d="M611.20 108.00 L620.80 118.20" stroke="#1a1a1a" stroke-width="0.7" fill="none"/>
<path d="M535.90 133.20V139.50H612.70V133.20M574.30 139.50V146.60" stroke="#333" stroke-width="1" fill="none"/>
<path d="M190.00 399.00 C191.33 396.00 195.23 387.00 198.00 381.00 C200.77 375.00 203.93 368.67 206.60 363.00 C209.27 357.33 211.60 352.17 214.00 347.00 C216.40 341.83 218.87 336.60 221.00 332.00 C223.13 327.40 224.43 323.57 226.80 319.40 C229.17 315.23 232.30 311.10 235.20 307.00 C238.10 302.90 241.18 298.33 244.20 294.80 C247.22 291.27 250.02 288.45 253.30 285.80 C256.58 283.15 260.37 280.73 263.90 278.90 C267.43 277.07 270.70 275.93 274.50 274.80 C278.30 273.67 282.40 272.85 286.70 272.10 C291.00 271.35 295.88 270.75 300.30 270.30 C304.72 269.85 311.05 269.55 313.20 269.40" stroke="#2280e4" stroke-width="1.4" fill="none" stroke-linejoin="round" stroke-linecap="round"/>
<path d="M203.50 399.00 C204.17 398.55 206.17 397.18 207.50 396.32 C208.83 395.45 210.17 394.62 211.50 393.81 C212.83 393.01 214.17 392.23 215.50 391.48 C216.83 390.73 218.17 390.00 219.50 389.30 C220.83 388.60 222.17 387.92 223.50 387.27 C224.83 386.61 226.17 385.98 227.50 385.37 C228.83 384.76 230.17 384.17 231.50 383.60 C232.83 383.03 234.17 382.48 235.50 381.95 C236.83 381.42 238.17 380.91 239.50 380.41 C240.83 379.91 242.17 379.44 243.50 378.97 C244.83 378.51 246.17 378.07 247.50 377.63 C248.83 377.20 250.17 376.79 251.50 376.38 C252.83 375.98 254.17 375.59 255.50 375.22 C256.83 374.84 258.17 374.48 259.50 374.13 C260.83 373.78 262.17 373.44 263.50 373.11 C264.83 372.79 266.17 372.47 267.50 372.17 C268.83 371.86 270.17 371.57 271.50 371.28 C272.83 371.00 274.17 370.73 275.50 370.46 C276.83 370.19 278.17 369.94 279.50 369.69 C280.83 369.44 282.17 369.21 283.50 368.97 C284.83 368.74 286.17 368.52 287.50 368.30 C288.83 368.09 290.17 367.88 291.50 367.68 C292.83 367.48 294.17 367.29 295.50 367.10 C296.83 366.91 298.17 366.73 299.50 366.56 C300.83 366.38 302.17 366.21 303.50 366.05 C304.83 365.88 306.17 365.73 307.50 365.58 C308.83 365.42 310.57 365.24 311.50 365.13 C312.43 365.03 312.83 364.99 313.10 364.97" stroke="#2280e4" stroke-width="1.15" fill="none" stroke-linejoin="round" stroke-linecap="round"/>
<path d="M205.12 399.00 C205.79 398.56 207.79 397.21 209.12 396.36 C210.45 395.50 211.79 394.68 213.12 393.89 C214.45 393.09 215.79 392.33 217.12 391.59 C218.45 390.85 219.79 390.13 221.12 389.44 C222.45 388.75 223.79 388.08 225.12 387.44 C226.45 386.79 227.79 386.17 229.12 385.57 C230.45 384.97 231.79 384.39 233.12 383.83 C234.45 383.26 235.79 382.72 237.12 382.20 C238.45 381.68 239.79 381.17 241.12 380.68 C242.45 380.19 243.79 379.72 245.12 379.27 C246.45 378.81 247.79 378.37 249.12 377.95 C250.45 377.52 251.79 377.11 253.12 376.71 C254.45 376.32 255.79 375.94 257.12 375.57 C258.45 375.20 259.79 374.84 261.12 374.49 C262.45 374.15 263.79 373.82 265.12 373.49 C266.45 373.17 267.79 372.86 269.12 372.56 C270.45 372.26 271.79 371.97 273.12 371.69 C274.45 371.41 275.79 371.14 277.12 370.88 C278.45 370.62 279.79 370.36 281.12 370.12 C282.45 369.88 283.79 369.64 285.12 369.41 C286.45 369.19 287.79 368.97 289.12 368.75 C290.45 368.54 291.79 368.34 293.12 368.14 C294.45 367.94 295.79 367.75 297.12 367.56 C298.45 367.38 299.79 367.20 301.12 367.03 C302.45 366.86 303.79 366.69 305.12 366.53 C306.45 366.37 307.79 366.21 309.12 366.06 C310.45 365.91 312.44 365.70 313.10 365.63" stroke="#2280e4" stroke-width="1.15" fill="none" stroke-linejoin="round" stroke-linecap="round"/>
<path d="M206.74 399.00 C207.41 398.57 209.41 397.23 210.74 396.39 C212.07 395.56 213.41 394.75 214.74 393.96 C216.07 393.18 217.41 392.43 218.74 391.70 C220.07 390.97 221.41 390.26 222.74 389.58 C224.07 388.90 225.41 388.24 226.74 387.61 C228.07 386.97 229.41 386.36 230.74 385.77 C232.07 385.18 233.41 384.60 234.74 384.05 C236.07 383.50 237.41 382.96 238.74 382.45 C240.07 381.93 241.41 381.44 242.74 380.95 C244.07 380.47 245.41 380.01 246.74 379.56 C248.07 379.11 249.41 378.68 250.74 378.26 C252.07 377.84 253.41 377.44 254.74 377.05 C256.07 376.65 257.41 376.28 258.74 375.91 C260.07 375.55 261.41 375.20 262.74 374.86 C264.07 374.52 265.41 374.19 266.74 373.87 C268.07 373.55 269.41 373.25 270.74 372.95 C272.07 372.66 273.41 372.37 274.74 372.10 C276.07 371.82 277.41 371.55 278.74 371.29 C280.07 371.04 281.41 370.79 282.74 370.55 C284.07 370.31 285.41 370.08 286.74 369.85 C288.07 369.63 289.41 369.41 290.74 369.20 C292.07 368.99 293.41 368.79 294.74 368.60 C296.07 368.40 297.41 368.21 298.74 368.03 C300.07 367.85 301.41 367.67 302.74 367.50 C304.07 367.33 305.41 367.17 306.74 367.01 C308.07 366.85 309.68 366.67 310.74 366.55 C311.80 366.43 312.71 366.34 313.10 366.30" stroke="#2280e4" stroke-width="1.15" fill="none" stroke-linejoin="round" stroke-linecap="round"/>
<path d="M208.36 399.00 C209.03 398.57 211.03 397.26 212.36 396.43 C213.69 395.61 215.03 394.81 216.36 394.04 C217.69 393.27 219.03 392.53 220.36 391.81 C221.69 391.09 223.03 390.40 224.36 389.72 C225.69 389.05 227.03 388.41 228.36 387.78 C229.69 387.15 231.03 386.55 232.36 385.97 C233.69 385.38 235.03 384.82 236.36 384.28 C237.69 383.73 239.03 383.21 240.36 382.70 C241.69 382.19 243.03 381.70 244.36 381.23 C245.69 380.75 247.03 380.30 248.36 379.85 C249.69 379.41 251.03 378.98 252.36 378.57 C253.69 378.16 255.03 377.76 256.36 377.38 C257.69 376.99 259.03 376.62 260.36 376.26 C261.69 375.90 263.03 375.56 264.36 375.22 C265.69 374.89 267.03 374.56 268.36 374.25 C269.69 373.94 271.03 373.64 272.36 373.34 C273.69 373.05 275.03 372.77 276.36 372.50 C277.69 372.23 279.03 371.97 280.36 371.71 C281.69 371.46 283.03 371.21 284.36 370.98 C285.69 370.74 287.03 370.51 288.36 370.29 C289.69 370.07 291.03 369.86 292.36 369.65 C293.69 369.45 295.03 369.25 296.36 369.05 C297.69 368.86 299.03 368.68 300.36 368.50 C301.69 368.32 303.03 368.15 304.36 367.98 C305.69 367.81 307.03 367.65 308.36 367.49 C309.69 367.34 311.57 367.13 312.36 367.04 C313.15 366.95 312.98 366.97 313.10 366.96" stroke="#2280e4" stroke-width="1.15" fill="none" stroke-linejoin="round" stroke-linecap="round"/>
<path d="M209.98 399.00 C210.65 398.58 212.65 397.29 213.98 396.47 C215.31 395.66 216.65 394.88 217.98 394.12 C219.31 393.36 220.65 392.63 221.98 391.92 C223.31 391.21 224.65 390.53 225.98 389.87 C227.31 389.21 228.65 388.57 229.98 387.95 C231.31 387.34 232.65 386.74 233.98 386.17 C235.31 385.59 236.65 385.04 237.98 384.50 C239.31 383.96 240.65 383.45 241.98 382.95 C243.31 382.45 244.65 381.96 245.98 381.50 C247.31 381.03 248.65 380.58 249.98 380.15 C251.31 379.71 252.65 379.29 253.98 378.88 C255.31 378.48 256.65 378.09 257.98 377.71 C259.31 377.33 260.65 376.96 261.98 376.61 C263.31 376.26 264.65 375.91 265.98 375.58 C267.31 375.25 268.65 374.94 269.98 374.63 C271.31 374.32 272.65 374.02 273.98 373.74 C275.31 373.45 276.65 373.17 277.98 372.91 C279.31 372.64 280.65 372.38 281.98 372.13 C283.31 371.88 284.65 371.64 285.98 371.41 C287.31 371.17 288.65 370.95 289.98 370.73 C291.31 370.51 292.65 370.30 293.98 370.10 C295.31 369.90 296.65 369.70 297.98 369.51 C299.31 369.32 300.65 369.14 301.98 368.96 C303.31 368.79 304.65 368.62 305.98 368.45 C307.31 368.29 308.79 368.11 309.98 367.98 C311.17 367.84 312.58 367.68 313.10 367.63" stroke="#2280e4" stroke-width="1.15" fill="none" stroke-linejoin="round" stroke-linecap="round"/>
<path d="M211.60 399.00 C212.27 398.59 214.27 397.31 215.60 396.51 C216.93 395.71 218.27 394.94 219.60 394.19 C220.93 393.44 222.27 392.72 223.60 392.03 C224.93 391.33 226.27 390.66 227.60 390.01 C228.93 389.36 230.27 388.73 231.60 388.12 C232.93 387.52 234.27 386.93 235.60 386.37 C236.93 385.80 238.27 385.25 239.60 384.73 C240.93 384.20 242.27 383.69 243.60 383.20 C244.93 382.70 246.27 382.23 247.60 381.77 C248.93 381.31 250.27 380.87 251.60 380.44 C252.93 380.01 254.27 379.60 255.60 379.20 C256.93 378.80 258.27 378.41 259.60 378.04 C260.93 377.66 262.27 377.30 263.60 376.96 C264.93 376.61 266.27 376.27 267.60 375.95 C268.93 375.62 270.27 375.31 271.60 375.01 C272.93 374.70 274.27 374.41 275.60 374.13 C276.93 373.85 278.27 373.57 279.60 373.31 C280.93 373.05 282.27 372.79 283.60 372.55 C284.93 372.30 286.27 372.06 287.60 371.83 C288.93 371.60 290.27 371.38 291.60 371.17 C292.93 370.96 294.27 370.75 295.60 370.55 C296.93 370.35 298.27 370.16 299.60 369.97 C300.93 369.78 302.27 369.61 303.60 369.43 C304.93 369.26 306.27 369.09 307.60 368.93 C308.93 368.77 310.68 368.56 311.60 368.46 C312.52 368.35 312.85 368.32 313.10 368.29" stroke="#2280e4" stroke-width="1.15" fill="none" stroke-linejoin="round" stroke-linecap="round"/>
<path d="M213.22 399.00 C213.89 398.59 215.89 397.34 217.22 396.55 C218.55 395.76 219.89 395.00 221.22 394.27 C222.55 393.53 223.89 392.82 225.22 392.14 C226.55 391.45 227.89 390.79 229.22 390.15 C230.55 389.51 231.89 388.89 233.22 388.30 C234.55 387.70 235.89 387.12 237.22 386.57 C238.55 386.01 239.89 385.47 241.22 384.95 C242.55 384.43 243.89 383.93 245.22 383.45 C246.55 382.96 247.89 382.49 249.22 382.04 C250.55 381.59 251.89 381.15 253.22 380.73 C254.55 380.31 255.89 379.90 257.22 379.51 C258.55 379.12 259.89 378.74 261.22 378.37 C262.55 378.00 263.89 377.65 265.22 377.30 C266.55 376.96 267.89 376.63 269.22 376.31 C270.55 375.99 271.89 375.68 273.22 375.39 C274.55 375.09 275.89 374.80 277.22 374.52 C278.55 374.24 279.89 373.98 281.22 373.72 C282.55 373.46 283.89 373.21 285.22 372.96 C286.55 372.72 287.89 372.49 289.22 372.26 C290.55 372.04 291.89 371.82 293.22 371.61 C294.55 371.40 295.89 371.20 297.22 371.00 C298.55 370.80 299.89 370.61 301.22 370.43 C302.55 370.25 303.89 370.07 305.22 369.90 C306.55 369.73 307.91 369.56 309.22 369.40 C310.53 369.24 312.45 369.03 313.10 368.95" stroke="#2280e4" stroke-width="1.15" fill="none" stroke-linejoin="round" stroke-linecap="round"/>
<path d="M214.84 399.00 C215.51 398.60 217.51 397.37 218.84 396.59 C220.17 395.82 221.51 395.07 222.84 394.34 C224.17 393.62 225.51 392.92 226.84 392.25 C228.17 391.57 229.51 390.92 230.84 390.29 C232.17 389.66 233.51 389.05 234.84 388.47 C236.17 387.88 237.51 387.31 238.84 386.77 C240.17 386.22 241.51 385.69 242.84 385.18 C244.17 384.67 245.51 384.17 246.84 383.70 C248.17 383.22 249.51 382.76 250.84 382.31 C252.17 381.87 253.51 381.44 254.84 381.02 C256.17 380.61 257.51 380.21 258.84 379.82 C260.17 379.43 261.51 379.06 262.84 378.70 C264.17 378.34 265.51 377.99 266.84 377.65 C268.17 377.32 269.51 376.99 270.84 376.68 C272.17 376.36 273.51 376.06 274.84 375.76 C276.17 375.47 277.51 375.19 278.84 374.91 C280.17 374.64 281.51 374.38 282.84 374.12 C284.17 373.87 285.51 373.62 286.84 373.38 C288.17 373.14 289.51 372.91 290.84 372.69 C292.17 372.47 293.51 372.26 294.84 372.05 C296.17 371.84 297.51 371.64 298.84 371.45 C300.17 371.25 301.51 371.07 302.84 370.89 C304.17 370.71 305.51 370.53 306.84 370.36 C308.17 370.20 309.80 370.00 310.84 369.88 C311.88 369.75 312.72 369.66 313.10 369.62" stroke="#2280e4" stroke-width="1.15" fill="none" stroke-linejoin="round" stroke-linecap="round"/>
<path d="M216.46 399.00 C217.13 398.61 219.13 397.39 220.46 396.63 C221.79 395.87 223.13 395.13 224.46 394.42 C225.79 393.71 227.13 393.02 228.46 392.36 C229.79 391.69 231.13 391.05 232.46 390.43 C233.79 389.81 235.13 389.22 236.46 388.64 C237.79 388.06 239.13 387.50 240.46 386.96 C241.79 386.42 243.13 385.91 244.46 385.40 C245.79 384.90 247.13 384.41 248.46 383.94 C249.79 383.48 251.13 383.02 252.46 382.59 C253.79 382.15 255.13 381.73 256.46 381.32 C257.79 380.91 259.13 380.52 260.46 380.13 C261.79 379.75 263.13 379.39 264.46 379.03 C265.79 378.67 267.13 378.33 268.46 378.00 C269.79 377.67 271.13 377.35 272.46 377.04 C273.79 376.73 275.13 376.43 276.46 376.14 C277.79 375.85 279.13 375.58 280.46 375.31 C281.79 375.04 283.13 374.78 284.46 374.53 C285.79 374.28 287.13 374.03 288.46 373.80 C289.79 373.56 291.13 373.34 292.46 373.12 C293.79 372.90 295.13 372.69 296.46 372.49 C297.79 372.28 299.13 372.09 300.46 371.90 C301.79 371.71 303.13 371.52 304.46 371.35 C305.79 371.17 307.13 371.00 308.46 370.83 C309.79 370.67 311.69 370.44 312.46 370.35 C313.23 370.26 312.99 370.29 313.10 370.28" stroke="#2280e4" stroke-width="1.15" fill="none" stroke-linejoin="round" stroke-linecap="round"/>
<path d="M218.08 399.00 C218.75 398.61 220.75 397.42 222.08 396.67 C223.41 395.92 224.75 395.20 226.08 394.50 C227.41 393.80 228.75 393.12 230.08 392.47 C231.41 391.81 232.75 391.19 234.08 390.58 C235.41 389.97 236.75 389.38 238.08 388.81 C239.41 388.24 240.75 387.69 242.08 387.16 C243.41 386.63 244.75 386.12 246.08 385.63 C247.41 385.13 248.75 384.66 250.08 384.19 C251.41 383.73 252.75 383.29 254.08 382.86 C255.41 382.43 256.75 382.01 258.08 381.61 C259.41 381.21 260.75 380.82 262.08 380.45 C263.41 380.07 264.75 379.71 266.08 379.36 C267.41 379.01 268.75 378.67 270.08 378.35 C271.41 378.02 272.75 377.71 274.08 377.40 C275.41 377.10 276.75 376.81 278.08 376.52 C279.41 376.24 280.75 375.96 282.08 375.70 C283.41 375.43 284.75 375.18 286.08 374.93 C287.41 374.69 288.75 374.45 290.08 374.22 C291.41 373.99 292.75 373.76 294.08 373.55 C295.41 373.33 296.75 373.13 298.08 372.93 C299.41 372.73 300.75 372.53 302.08 372.35 C303.41 372.16 304.75 371.98 306.08 371.80 C307.41 371.63 308.91 371.44 310.08 371.30 C311.25 371.15 312.60 371.00 313.10 370.94" stroke="#2280e4" stroke-width="1.15" fill="none" stroke-linejoin="round" stroke-linecap="round"/>
<path d="M219.70 399.00 C220.37 398.62 222.37 397.45 223.70 396.71 C225.03 395.97 226.37 395.26 227.70 394.57 C229.03 393.88 230.37 393.22 231.70 392.58 C233.03 391.94 234.37 391.32 235.70 390.72 C237.03 390.12 238.37 389.54 239.70 388.98 C241.03 388.42 242.37 387.88 243.70 387.36 C245.03 386.84 246.37 386.34 247.70 385.85 C249.03 385.37 250.37 384.90 251.70 384.44 C253.03 383.99 254.37 383.55 255.70 383.13 C257.03 382.71 258.37 382.30 259.70 381.90 C261.03 381.51 262.37 381.13 263.70 380.76 C265.03 380.39 266.37 380.04 267.70 379.69 C269.03 379.35 270.37 379.02 271.70 378.70 C273.03 378.38 274.37 378.07 275.70 377.77 C277.03 377.47 278.37 377.18 279.70 376.90 C281.03 376.62 282.37 376.35 283.70 376.09 C285.03 375.83 286.37 375.58 287.70 375.34 C289.03 375.09 290.37 374.86 291.70 374.63 C293.03 374.41 294.37 374.19 295.70 373.98 C297.03 373.77 298.37 373.56 299.70 373.37 C301.03 373.17 302.37 372.98 303.70 372.79 C305.03 372.61 306.37 372.43 307.70 372.26 C309.03 372.09 310.80 371.87 311.70 371.76 C312.60 371.65 312.87 371.63 313.10 371.60" stroke="#2280e4" stroke-width="1.15" fill="none" stroke-linejoin="round" stroke-linecap="round"/>
<path d="M223.30 399.00 C223.97 398.63 225.97 397.51 227.30 396.80 C228.63 396.09 229.97 395.40 231.30 394.74 C232.63 394.08 233.97 393.44 235.30 392.82 C236.63 392.20 237.97 391.61 239.30 391.03 C240.63 390.46 241.97 389.90 243.30 389.36 C244.63 388.83 245.97 388.31 247.30 387.81 C248.63 387.30 249.97 386.82 251.30 386.35 C252.63 385.89 253.97 385.43 255.30 385.00 C256.63 384.56 257.97 384.14 259.30 383.73 C260.63 383.33 261.97 382.93 263.30 382.55 C264.63 382.17 265.97 381.81 267.30 381.45 C268.63 381.10 269.97 380.76 271.30 380.43 C272.63 380.10 273.97 379.78 275.30 379.47 C276.63 379.16 277.97 378.86 279.30 378.58 C280.63 378.29 281.97 378.01 283.30 377.74 C284.63 377.47 285.97 377.21 287.30 376.96 C288.63 376.71 289.97 376.47 291.30 376.24 C292.63 376.00 293.97 375.78 295.30 375.56 C296.63 375.34 297.97 375.13 299.30 374.93 C300.63 374.73 301.97 374.53 303.30 374.34 C304.63 374.15 305.97 373.97 307.30 373.79 C308.63 373.61 310.33 373.40 311.30 373.28 C312.27 373.16 312.80 373.10 313.10 373.06" stroke="#2280e4" stroke-width="1.15" fill="none" stroke-linejoin="round" stroke-linecap="round"/>
<path d="M227.98 399.00 C228.65 398.65 230.65 397.58 231.98 396.91 C233.31 396.24 234.65 395.59 235.98 394.96 C237.31 394.33 238.65 393.73 239.98 393.14 C241.31 392.55 242.65 391.99 243.98 391.44 C245.31 390.90 246.65 390.37 247.98 389.86 C249.31 389.35 250.65 388.86 251.98 388.38 C253.31 387.91 254.65 387.45 255.98 387.00 C257.31 386.56 258.65 386.13 259.98 385.72 C261.31 385.30 262.65 384.91 263.98 384.52 C265.31 384.13 266.65 383.76 267.98 383.40 C269.31 383.04 270.65 382.69 271.98 382.36 C273.31 382.02 274.65 381.70 275.98 381.38 C277.31 381.07 278.65 380.77 279.98 380.47 C281.31 380.18 282.65 379.90 283.98 379.63 C285.31 379.35 286.65 379.09 287.98 378.84 C289.31 378.58 290.65 378.34 291.98 378.10 C293.31 377.86 294.65 377.63 295.98 377.41 C297.31 377.19 298.65 376.97 299.98 376.77 C301.31 376.56 302.65 376.36 303.98 376.17 C305.31 375.98 306.65 375.79 307.98 375.61 C309.31 375.43 311.13 375.20 311.98 375.09 C312.83 374.98 312.91 374.97 313.10 374.95" stroke="#2280e4" stroke-width="1.15" fill="none" stroke-linejoin="round" stroke-linecap="round"/>
<path d="M233.02 399.00 C233.69 398.67 235.69 397.67 237.02 397.03 C238.35 396.40 239.69 395.79 241.02 395.20 C242.35 394.60 243.69 394.03 245.02 393.48 C246.35 392.93 247.69 392.40 249.02 391.88 C250.35 391.37 251.69 390.87 253.02 390.39 C254.35 389.91 255.69 389.45 257.02 389.00 C258.35 388.55 259.69 388.12 261.02 387.70 C262.35 387.29 263.69 386.88 265.02 386.49 C266.35 386.10 267.69 385.73 269.02 385.36 C270.35 385.00 271.69 384.65 273.02 384.31 C274.35 383.97 275.69 383.64 277.02 383.33 C278.35 383.01 279.69 382.71 281.02 382.41 C282.35 382.12 283.69 381.83 285.02 381.56 C286.35 381.28 287.69 381.01 289.02 380.76 C290.35 380.50 291.69 380.25 293.02 380.01 C294.35 379.77 295.69 379.54 297.02 379.32 C298.35 379.09 299.69 378.88 301.02 378.67 C302.35 378.46 303.69 378.26 305.02 378.07 C306.35 377.87 307.69 377.68 309.02 377.50 C310.35 377.32 312.34 377.07 313.02 376.98 C313.70 376.89 313.09 376.97 313.10 376.97" stroke="#2280e4" stroke-width="1.15" fill="none" stroke-linejoin="round" stroke-linecap="round"/>
<path d="M239.50 399.00 C240.17 398.70 242.17 397.77 243.50 397.19 C244.83 396.61 246.17 396.04 247.50 395.50 C248.83 394.95 250.17 394.43 251.50 393.92 C252.83 393.41 254.17 392.93 255.50 392.45 C256.83 391.98 258.17 391.52 259.50 391.08 C260.83 390.64 262.17 390.21 263.50 389.80 C264.83 389.39 266.17 388.99 267.50 388.61 C268.83 388.22 270.17 387.85 271.50 387.49 C272.83 387.13 274.17 386.79 275.50 386.45 C276.83 386.12 278.17 385.79 279.50 385.48 C280.83 385.17 282.17 384.87 283.50 384.58 C284.83 384.29 286.17 384.01 287.50 383.73 C288.83 383.46 290.17 383.20 291.50 382.95 C292.83 382.69 294.17 382.45 295.50 382.21 C296.83 381.98 298.17 381.75 299.50 381.53 C300.83 381.31 302.17 381.09 303.50 380.89 C304.83 380.68 306.17 380.48 307.50 380.29 C308.83 380.10 310.57 379.86 311.50 379.74 C312.43 379.61 312.83 379.56 313.10 379.52" stroke="#2280e4" stroke-width="1.15" fill="none" stroke-linejoin="round" stroke-linecap="round"/>
<path d="M250.00 385.00 C251.25 383.50 254.13 379.83 257.50 376.00 C260.87 372.17 266.40 366.65 270.20 362.00 C274.00 357.35 276.93 353.17 280.30 348.10 C283.67 343.03 287.02 336.67 290.40 331.60 C293.78 326.53 297.83 321.13 300.60 317.70 C303.37 314.27 304.78 312.90 307.00 311.00 C309.22 309.10 312.75 307.08 313.90 306.30" stroke="#2280e4" stroke-width="1.2" fill="none" stroke-linejoin="round" stroke-linecap="round"/>
<path d="M255.00 385.00 C256.27 383.50 259.43 379.83 262.60 376.00 C265.77 372.17 270.20 366.87 274.00 362.00 C277.80 357.13 281.82 351.87 285.40 346.80 C288.98 341.73 292.13 336.02 295.50 331.60 C298.87 327.18 302.53 323.45 305.60 320.30 C308.67 317.15 312.52 313.97 313.90 312.70" stroke="#2280e4" stroke-width="1.2" fill="none" stroke-linejoin="round" stroke-linecap="round"/>
<path d="M268.00 383.00 C270.05 380.98 276.35 375.23 280.30 370.90 C284.25 366.57 287.90 361.65 291.70 357.00 C295.50 352.35 299.40 346.92 303.10 343.00 C306.80 339.08 312.10 335.08 313.90 333.50" stroke="#2280e4" stroke-width="2.0" fill="none" stroke-linejoin="round" stroke-linecap="round"/>
<path d="M270.00 382.00 C271.93 379.83 277.13 373.60 281.60 369.00 C286.07 364.40 292.80 357.67 296.80 354.40 C300.80 351.13 302.75 351.08 305.60 349.40 C308.45 347.72 312.52 345.15 313.90 344.30" stroke="#2280e4" stroke-width="2.0" fill="none" stroke-linejoin="round" stroke-linecap="round"/>
<path d="M275.00 378.00 C276.52 376.00 280.60 370.33 284.10 366.00 C287.60 361.67 292.35 355.75 296.00 352.00 C299.65 348.25 303.02 345.67 306.00 343.50 C308.98 341.33 312.58 339.75 313.90 339.00" stroke="#2280e4" stroke-width="1.1" fill="none" stroke-linejoin="round" stroke-linecap="round"/>
<path d="M37.50 394.30 L45.00 393.00" stroke="#2280e4" stroke-width="1.2" fill="none" stroke-linejoin="round" stroke-linecap="round"/>
<path d="M37.50 395.50 L39.50 398.50" stroke="#2280e4" stroke-width="1.2" fill="none" stroke-linejoin="round" stroke-linecap="round"/>
<path d="M39.00 397.30 L45.00 396.00" stroke="#2280e4" stroke-width="1.5" fill="none" stroke-linejoin="round" stroke-linecap="round"/>
<path d="M176.40 307.20 L222.60 330.50" stroke="#1a1a1a" stroke-width="0.7" fill="none"/>
<path d="M306.50 293.50 L303.60 351.40" stroke="#1a1a1a" stroke-width="0.7" fill="none"/>
<path d="M307.50 293.50 L302.20 351.80" stroke="#1a1a1a" stroke-width="0.7" fill="none"/>
<path d="M291.50 311.50 L294.60 353.00" stroke="#1a1a1a" stroke-width="0.7" fill="none"/>
<path d="M292.50 311.50 L298.80 356.20" stroke="#1a1a1a" stroke-width="0.7" fill="none"/>
<path d="M280.60 334.00 L288.50 357.00" stroke="#1a1a1a" stroke-width="0.7" fill="none"/>
<path d="M281.50 334.00 L292.50 356.20" stroke="#1a1a1a" stroke-width="0.7" fill="none"/>
<path d="M270.80 353.00 L279.80 355.40" stroke="#1a1a1a" stroke-width="0.7" fill="none"/>
<path d="M270.80 353.00 L272.70 357.80" stroke="#1a1a1a" stroke-width="0.7" fill="none"/>
<path d="M207.00 363.30V369.50H271.20V363.30M239.10 369.50V376.50" stroke="#333" stroke-width="1" fill="none"/>
<path d="M525.50 378.80 C526.10 375.57 527.85 365.70 529.10 359.40 C530.35 353.10 531.63 346.98 533.00 341.00 C534.37 335.02 535.78 329.63 537.30 323.50 C538.82 317.37 540.35 310.27 542.10 304.20 C543.85 298.13 545.58 292.80 547.80 287.10 C550.02 281.40 552.87 275.22 555.40 270.00 C557.93 264.78 560.17 260.22 563.00 255.80 C565.83 251.38 569.25 246.88 572.40 243.50 C575.55 240.12 578.10 237.72 581.90 235.50 C585.70 233.28 590.45 231.57 595.20 230.20 C599.95 228.83 605.43 228.10 610.40 227.30 C615.37 226.50 617.75 226.07 625.00 225.40 C632.25 224.73 649.08 223.65 653.90 223.30" stroke="#2280e4" stroke-width="2" fill="none" stroke-linejoin="round" stroke-linecap="round"/>
<path d="M370.60 373.00 L377.00 399.00" stroke="#2280e4" stroke-width="1.3" fill="none" stroke-linejoin="round" stroke-linecap="round"/>
<path d="M579.65 399.00 C579.86 398.21 580.46 396.04 580.94 394.27 C581.42 392.51 582.01 390.36 582.55 388.40 C583.09 386.45 583.62 384.49 584.16 382.54 C584.70 380.59 585.23 378.65 585.77 376.70 C586.31 374.76 586.84 372.82 587.38 370.89 C587.92 368.95 588.45 367.02 588.99 365.09 C589.53 363.16 590.06 361.24 590.60 359.32 C591.14 357.41 591.67 355.49 592.21 353.59 C592.75 351.68 593.28 349.78 593.82 347.89 C594.36 346.00 594.89 344.11 595.43 342.23 C595.97 340.36 596.50 338.49 597.04 336.63 C597.58 334.77 598.11 332.91 598.65 331.07 C599.19 329.23 599.72 327.40 600.26 325.58 C600.80 323.77 601.33 321.96 601.87 320.16 C602.41 318.37 602.94 316.59 603.48 314.82 C604.02 313.06 604.55 311.31 605.09 309.58 C605.63 307.84 606.16 306.13 606.70 304.43 C607.24 302.73 607.77 301.05 608.31 299.39 C608.85 297.74 609.38 296.10 609.92 294.48 C610.46 292.87 610.99 291.28 611.53 289.71 C612.07 288.15 612.60 286.60 613.14 285.09 C613.68 283.58 614.21 282.09 614.75 280.63 C615.29 279.18 615.82 277.75 616.36 276.35 C616.90 274.96 617.43 273.59 617.97 272.26 C618.51 270.93 619.04 269.63 619.58 268.37 C620.12 267.10 620.65 265.87 621.19 264.68 C621.73 263.49 622.26 262.33 622.80 261.21 C623.34 260.09 623.87 259.01 624.41 257.96 C624.95 256.92 625.48 255.91 626.02 254.94 C626.56 253.97 627.09 253.04 627.63 252.14 C628.17 251.24 628.70 250.39 629.24 249.56 C629.78 248.74 630.31 247.96 630.85 247.20 C631.39 246.45 631.92 245.74 632.46 245.06 C633.00 244.37 633.53 243.73 634.07 243.11 C634.61 242.49 635.14 241.91 635.68 241.36 C636.22 240.80 636.75 240.28 637.29 239.78 C637.83 239.29 638.36 238.82 638.90 238.38 C639.44 237.94 639.97 237.52 640.51 237.13 C641.05 236.74 641.58 236.37 642.12 236.02 C642.66 235.67 643.19 235.35 643.73 235.04 C644.27 234.74 644.80 234.45 645.34 234.18 C645.88 233.91 646.41 233.66 646.95 233.43 C647.49 233.19 648.02 232.97 648.56 232.76 C649.10 232.56 649.63 232.37 650.17 232.18 C650.71 232.00 651.24 231.84 651.78 231.68 C652.32 231.52 653.12 231.31 653.39 231.24" stroke="#2280e4" stroke-width="1.2" fill="none" stroke-linejoin="round" stroke-linecap="round"/>
<path d="M585.14 399.00 C585.35 398.21 585.95 396.01 586.44 394.23 C586.93 392.46 587.51 390.32 588.05 388.36 C588.59 386.41 589.12 384.46 589.66 382.51 C590.20 380.56 590.73 378.62 591.27 376.68 C591.81 374.74 592.34 372.80 592.88 370.87 C593.42 368.93 593.95 367.01 594.49 365.08 C595.03 363.16 595.56 361.24 596.10 359.32 C596.64 357.41 597.17 355.50 597.71 353.60 C598.25 351.70 598.78 349.80 599.32 347.91 C599.86 346.03 600.39 344.14 600.93 342.27 C601.47 340.40 602.00 338.54 602.54 336.68 C603.08 334.83 603.61 332.98 604.15 331.15 C604.69 329.31 605.22 327.49 605.76 325.68 C606.30 323.87 606.83 322.07 607.37 320.28 C607.91 318.50 608.44 316.72 608.98 314.97 C609.52 313.21 610.05 311.47 610.59 309.75 C611.13 308.03 611.66 306.32 612.20 304.64 C612.74 302.95 613.27 301.28 613.81 299.64 C614.35 298.00 614.88 296.37 615.42 294.77 C615.96 293.17 616.49 291.60 617.03 290.05 C617.57 288.50 618.10 286.97 618.64 285.47 C619.18 283.98 619.71 282.51 620.25 281.07 C620.79 279.63 621.32 278.22 621.86 276.85 C622.40 275.47 622.93 274.13 623.47 272.82 C624.01 271.51 624.54 270.23 625.08 268.99 C625.62 267.74 626.15 266.54 626.69 265.37 C627.23 264.20 627.76 263.06 628.30 261.97 C628.84 260.87 629.37 259.81 629.91 258.79 C630.45 257.77 630.98 256.78 631.52 255.83 C632.06 254.89 632.59 253.98 633.13 253.10 C633.67 252.23 634.20 251.39 634.74 250.59 C635.28 249.79 635.81 249.03 636.35 248.30 C636.89 247.57 637.42 246.88 637.96 246.22 C638.50 245.56 639.03 244.93 639.57 244.33 C640.11 243.74 640.64 243.17 641.18 242.64 C641.72 242.10 642.25 241.60 642.79 241.12 C643.33 240.64 643.86 240.19 644.40 239.76 C644.94 239.33 645.47 238.94 646.01 238.56 C646.55 238.18 647.08 237.83 647.62 237.49 C648.16 237.16 648.69 236.85 649.23 236.55 C649.77 236.26 650.30 235.98 650.84 235.72 C651.38 235.46 652.18 235.12 652.45 235.00" stroke="#2280e4" stroke-width="1.2" fill="none" stroke-linejoin="round" stroke-linecap="round"/>
<path d="M592.73 399.00 C593.00 398.04 593.80 395.14 594.34 393.22 C594.88 391.30 595.41 389.38 595.95 387.47 C596.49 385.56 597.02 383.65 597.56 381.75 C598.10 379.85 598.63 377.95 599.17 376.07 C599.71 374.18 600.24 372.30 600.78 370.43 C601.32 368.56 601.85 366.70 602.39 364.85 C602.93 363.00 603.46 361.15 604.00 359.32 C604.54 357.49 605.07 355.67 605.61 353.86 C606.15 352.06 606.68 350.26 607.22 348.48 C607.76 346.70 608.29 344.93 608.83 343.18 C609.37 341.43 609.90 339.69 610.44 337.97 C610.98 336.26 611.51 334.56 612.05 332.88 C612.59 331.20 613.12 329.53 613.66 327.90 C614.20 326.26 614.73 324.64 615.27 323.05 C615.81 321.45 616.34 319.88 616.88 318.34 C617.42 316.80 617.95 315.28 618.49 313.79 C619.03 312.30 619.56 310.84 620.10 309.41 C620.64 307.98 621.17 306.58 621.71 305.22 C622.25 303.85 622.78 302.51 623.32 301.21 C623.86 299.91 624.39 298.64 624.93 297.41 C625.47 296.18 626.00 294.98 626.54 293.82 C627.08 292.66 627.61 291.54 628.15 290.45 C628.69 289.36 629.22 288.31 629.76 287.30 C630.30 286.29 630.83 285.32 631.37 284.38 C631.91 283.44 632.44 282.54 632.98 281.68 C633.52 280.82 634.05 279.99 634.59 279.20 C635.13 278.41 635.66 277.66 636.20 276.94 C636.74 276.22 637.27 275.53 637.81 274.88 C638.35 274.23 638.88 273.61 639.42 273.02 C639.96 272.44 640.49 271.88 641.03 271.35 C641.57 270.82 642.10 270.33 642.64 269.86 C643.18 269.38 643.71 268.94 644.25 268.52 C644.79 268.10 645.32 267.71 645.86 267.34 C646.40 266.97 646.93 266.62 647.47 266.29 C648.01 265.96 648.54 265.66 649.08 265.37 C649.62 265.08 650.15 264.81 650.69 264.55 C651.23 264.30 651.76 264.06 652.30 263.84 C652.84 263.62 653.64 263.32 653.91 263.22" stroke="#2280e4" stroke-width="1.2" fill="none" stroke-linejoin="round" stroke-linecap="round"/>
<path d="M597.53 399.00 C597.53 399.00 597.26 399.96 597.53 399.00 C597.80 398.03 598.60 395.14 599.14 393.22 C599.68 391.29 600.21 389.38 600.75 387.46 C601.29 385.55 601.82 383.65 602.36 381.75 C602.90 379.85 603.43 377.95 603.97 376.07 C604.51 374.18 605.04 372.30 605.58 370.43 C606.12 368.56 606.65 366.70 607.19 364.85 C607.73 363.00 608.26 361.15 608.80 359.32 C609.34 357.49 609.87 355.67 610.41 353.87 C610.95 352.06 611.48 350.26 612.02 348.48 C612.56 346.70 613.09 344.93 613.63 343.18 C614.17 341.43 614.70 339.70 615.24 337.98 C615.78 336.26 616.31 334.56 616.85 332.88 C617.39 331.20 617.92 329.54 618.46 327.91 C619.00 326.27 619.53 324.65 620.07 323.06 C620.61 321.47 621.14 319.90 621.68 318.36 C622.22 316.81 622.75 315.30 623.29 313.81 C623.83 312.32 624.36 310.86 624.90 309.43 C625.44 308.00 625.97 306.60 626.51 305.24 C627.05 303.87 627.58 302.54 628.12 301.24 C628.66 299.94 629.19 298.67 629.73 297.44 C630.27 296.21 630.80 295.01 631.34 293.85 C631.88 292.70 632.41 291.57 632.95 290.49 C633.49 289.40 634.02 288.35 634.56 287.34 C635.10 286.33 635.63 285.36 636.17 284.42 C636.71 283.49 637.24 282.59 637.78 281.73 C638.32 280.87 638.85 280.04 639.39 279.25 C639.93 278.46 640.46 277.71 641.00 276.99 C641.54 276.27 642.07 275.59 642.61 274.94 C643.15 274.29 643.68 273.67 644.22 273.09 C644.76 272.50 645.29 271.94 645.83 271.42 C646.37 270.89 646.90 270.39 647.44 269.92 C647.98 269.45 648.51 269.01 649.05 268.59 C649.59 268.17 650.12 267.78 650.66 267.41 C651.20 267.04 651.73 266.69 652.27 266.36 C652.81 266.04 653.61 265.60 653.88 265.44" stroke="#2280e4" stroke-width="1.2" fill="none" stroke-linejoin="round" stroke-linecap="round"/>
<path d="M601.24 399.00 C601.27 398.89 601.13 399.38 601.43 398.32 C601.73 397.25 602.50 394.50 603.04 392.60 C603.58 390.70 604.11 388.80 604.65 386.92 C605.19 385.03 605.72 383.15 606.26 381.28 C606.80 379.41 607.33 377.55 607.87 375.70 C608.41 373.84 608.94 372.00 609.48 370.17 C610.02 368.34 610.55 366.52 611.09 364.71 C611.63 362.90 612.16 361.10 612.70 359.32 C613.24 357.54 613.77 355.77 614.31 354.02 C614.85 352.27 615.38 350.53 615.92 348.82 C616.46 347.10 616.99 345.40 617.53 343.72 C618.07 342.04 618.60 340.38 619.14 338.74 C619.68 337.10 620.21 335.48 620.75 333.89 C621.29 332.29 621.82 330.72 622.36 329.18 C622.90 327.64 623.43 326.12 623.97 324.63 C624.51 323.14 625.04 321.68 625.58 320.25 C626.12 318.82 626.65 317.42 627.19 316.05 C627.73 314.68 628.26 313.34 628.80 312.04 C629.34 310.74 629.87 309.47 630.41 308.24 C630.95 307.01 631.48 305.81 632.02 304.65 C632.56 303.49 633.09 302.36 633.63 301.28 C634.17 300.19 634.70 299.14 635.24 298.13 C635.78 297.11 636.31 296.14 636.85 295.20 C637.39 294.26 637.92 293.36 638.46 292.50 C639.00 291.64 639.53 290.81 640.07 290.02 C640.61 289.23 641.14 288.47 641.68 287.75 C642.22 287.03 642.75 286.35 643.29 285.69 C643.83 285.04 644.36 284.42 644.90 283.83 C645.44 283.25 645.97 282.69 646.51 282.16 C647.05 281.63 647.58 281.14 648.12 280.66 C648.66 280.19 649.19 279.75 649.73 279.33 C650.27 278.91 650.80 278.52 651.34 278.14 C651.88 277.77 652.68 277.27 652.95 277.09" stroke="#2280e4" stroke-width="1.2" fill="none" stroke-linejoin="round" stroke-linecap="round"/>
<path d="M606.07 399.00 C606.09 398.90 605.93 399.47 606.23 398.42 C606.53 397.37 607.30 394.59 607.84 392.69 C608.38 390.79 608.91 388.89 609.45 387.00 C609.99 385.11 610.52 383.23 611.06 381.35 C611.60 379.48 612.13 377.61 612.67 375.75 C613.21 373.90 613.74 372.05 614.28 370.21 C614.82 368.37 615.35 366.54 615.89 364.73 C616.43 362.92 616.96 361.11 617.50 359.32 C618.04 357.54 618.57 355.76 619.11 354.00 C619.65 352.24 620.18 350.49 620.72 348.77 C621.26 347.04 621.79 345.33 622.33 343.64 C622.87 341.95 623.40 340.27 623.94 338.62 C624.48 336.97 625.01 335.34 625.55 333.74 C626.09 332.13 626.62 330.55 627.16 328.99 C627.70 327.43 628.23 325.90 628.77 324.40 C629.31 322.89 629.84 321.41 630.38 319.97 C630.92 318.52 631.45 317.10 631.99 315.72 C632.53 314.33 633.06 312.98 633.60 311.66 C634.14 310.34 634.67 309.05 635.21 307.80 C635.75 306.55 636.28 305.33 636.82 304.15 C637.36 302.97 637.89 301.83 638.43 300.72 C638.97 299.61 639.50 298.54 640.04 297.51 C640.58 296.48 641.11 295.48 641.65 294.52 C642.19 293.57 642.72 292.65 643.26 291.76 C643.80 290.88 644.33 290.03 644.87 289.22 C645.41 288.41 645.94 287.64 646.48 286.90 C647.02 286.16 647.55 285.46 648.09 284.79 C648.63 284.12 649.16 283.48 649.70 282.87 C650.24 282.27 650.77 281.70 651.31 281.15 C651.85 280.61 652.65 279.87 652.92 279.61" stroke="#2280e4" stroke-width="1.2" fill="none" stroke-linejoin="round" stroke-linecap="round"/>
<path d="M611.71 399.00 C611.85 398.53 612.13 397.56 612.53 396.17 C612.93 394.78 613.60 392.48 614.14 390.65 C614.68 388.83 615.21 387.01 615.75 385.21 C616.29 383.40 616.82 381.61 617.36 379.83 C617.90 378.06 618.43 376.30 618.97 374.55 C619.51 372.80 620.04 371.07 620.58 369.36 C621.12 367.65 621.65 365.96 622.19 364.28 C622.73 362.61 623.26 360.95 623.80 359.32 C624.34 357.69 624.87 356.08 625.41 354.50 C625.95 352.91 626.48 351.35 627.02 349.82 C627.56 348.28 628.09 346.77 628.63 345.30 C629.17 343.82 629.70 342.37 630.24 340.95 C630.78 339.53 631.31 338.14 631.85 336.78 C632.39 335.42 632.92 334.10 633.46 332.81 C634.00 331.52 634.53 330.26 635.07 329.04 C635.61 327.82 636.14 326.64 636.68 325.49 C637.22 324.34 637.75 323.23 638.29 322.16 C638.83 321.08 639.36 320.05 639.90 319.05 C640.44 318.05 640.97 317.09 641.51 316.16 C642.05 315.24 642.58 314.35 643.12 313.50 C643.66 312.65 644.19 311.84 644.73 311.06 C645.27 310.28 645.80 309.54 646.34 308.83 C646.88 308.12 647.41 307.45 647.95 306.81 C648.49 306.17 649.02 305.56 649.56 304.98 C650.10 304.40 650.63 303.86 651.17 303.34 C651.71 302.82 652.51 302.12 652.78 301.87" stroke="#2280e4" stroke-width="1.6" fill="none" stroke-linejoin="round" stroke-linecap="round"/>
<path d="M614.05 399.00 C614.06 398.96 613.84 399.68 614.12 398.76 C614.40 397.83 615.19 395.19 615.73 393.42 C616.27 391.66 616.80 389.91 617.34 388.18 C617.88 386.46 618.41 384.74 618.95 383.05 C619.49 381.35 620.02 379.68 620.56 378.02 C621.10 376.37 621.63 374.74 622.17 373.13 C622.71 371.52 623.24 369.93 623.78 368.37 C624.32 366.81 624.85 365.27 625.39 363.76 C625.93 362.26 626.46 360.77 627.00 359.32 C627.54 357.87 628.07 356.45 628.61 355.06 C629.15 353.67 629.68 352.31 630.22 350.99 C630.76 349.66 631.29 348.37 631.83 347.11 C632.37 345.86 632.90 344.63 633.44 343.45 C633.98 342.26 634.51 341.11 635.05 340.00 C635.59 338.89 636.12 337.81 636.66 336.77 C637.20 335.74 637.73 334.74 638.27 333.77 C638.81 332.81 639.34 331.88 639.88 330.99 C640.42 330.11 640.95 329.25 641.49 328.44 C642.03 327.62 642.56 326.84 643.10 326.10 C643.64 325.36 644.17 324.65 644.71 323.97 C645.25 323.30 645.78 322.66 646.32 322.05 C646.86 321.43 647.39 320.86 647.93 320.31 C648.47 319.76 649.00 319.24 649.54 318.75 C650.08 318.26 650.61 317.80 651.15 317.36 C651.69 316.93 652.49 316.33 652.76 316.13" stroke="#2280e4" stroke-width="1.2" fill="none" stroke-linejoin="round" stroke-linecap="round"/>
<path d="M618.99 399.00 C619.23 398.25 619.91 396.07 620.42 394.49 C620.93 392.92 621.49 391.17 622.03 389.54 C622.57 387.91 623.10 386.30 623.64 384.72 C624.18 383.14 624.71 381.58 625.25 380.05 C625.79 378.52 626.32 377.01 626.86 375.54 C627.40 374.06 627.93 372.61 628.47 371.20 C629.01 369.78 629.54 368.39 630.08 367.04 C630.62 365.69 631.15 364.36 631.69 363.08 C632.23 361.79 632.76 360.54 633.30 359.32 C633.84 358.11 634.37 356.93 634.91 355.78 C635.45 354.64 635.98 353.53 636.52 352.46 C637.06 351.39 637.59 350.36 638.13 349.36 C638.67 348.37 639.20 347.41 639.74 346.49 C640.28 345.57 640.81 344.68 641.35 343.84 C641.89 342.99 642.42 342.18 642.96 341.41 C643.50 340.63 644.03 339.89 644.57 339.19 C645.11 338.48 645.64 337.81 646.18 337.18 C646.72 336.54 647.25 335.94 647.79 335.36 C648.33 334.79 648.86 334.24 649.40 333.73 C649.94 333.21 650.47 332.73 651.01 332.27 C651.55 331.81 652.35 331.19 652.62 330.97" stroke="#2280e4" stroke-width="1.1" fill="none" stroke-linejoin="round" stroke-linecap="round"/>
<path d="M530.44 399.00 C531.28 398.21 533.78 395.77 535.44 394.25 C537.11 392.74 538.78 391.28 540.44 389.89 C542.11 388.49 543.78 387.16 545.44 385.87 C547.11 384.58 548.78 383.36 550.44 382.17 C552.11 380.99 553.78 379.86 555.44 378.77 C557.11 377.69 558.78 376.65 560.44 375.64 C562.11 374.64 563.78 373.69 565.44 372.77 C567.11 371.85 568.78 370.97 570.44 370.12 C572.11 369.27 573.78 368.46 575.44 367.68 C577.11 366.90 578.78 366.16 580.44 365.44 C582.11 364.72 583.78 364.04 585.44 363.38 C587.11 362.72 588.78 362.09 590.44 361.48 C592.11 360.87 593.78 360.29 595.44 359.73 C597.11 359.17 598.78 358.64 600.44 358.13 C602.11 357.61 603.78 357.12 605.44 356.65 C607.11 356.18 608.78 355.72 610.44 355.29 C612.11 354.85 613.78 354.44 615.44 354.04 C617.11 353.64 618.78 353.26 620.44 352.89 C622.11 352.52 623.78 352.17 625.44 351.83 C627.11 351.49 628.78 351.17 630.44 350.85 C632.11 350.54 633.78 350.24 635.44 349.96 C637.11 349.67 638.78 349.40 640.44 349.13 C642.11 348.87 643.78 348.62 645.44 348.37 C647.11 348.13 649.02 347.87 650.44 347.68 C651.87 347.48 653.41 347.29 654.00 347.21" stroke="#2280e4" stroke-width="1.0" fill="none" stroke-linejoin="round" stroke-linecap="round"/>
<path d="M536.51 399.00 C537.35 398.24 539.85 395.91 541.51 394.46 C543.18 393.00 544.85 391.61 546.51 390.28 C548.18 388.94 549.85 387.66 551.51 386.43 C553.18 385.20 554.85 384.02 556.51 382.89 C558.18 381.76 559.85 380.68 561.51 379.63 C563.18 378.59 564.85 377.60 566.51 376.64 C568.18 375.68 569.85 374.76 571.51 373.88 C573.18 373.00 574.85 372.16 576.51 371.35 C578.18 370.54 579.85 369.76 581.51 369.01 C583.18 368.27 584.85 367.55 586.51 366.87 C588.18 366.18 589.85 365.52 591.51 364.89 C593.18 364.26 594.85 363.66 596.51 363.08 C598.18 362.49 599.85 361.94 601.51 361.40 C603.18 360.87 604.85 360.36 606.51 359.87 C608.18 359.37 609.85 358.90 611.51 358.45 C613.18 358.00 614.85 357.57 616.51 357.15 C618.18 356.73 619.85 356.33 621.51 355.95 C623.18 355.57 624.85 355.20 626.51 354.85 C628.18 354.50 629.85 354.16 631.51 353.84 C633.18 353.51 634.85 353.20 636.51 352.90 C638.18 352.60 639.85 352.32 641.51 352.04 C643.18 351.77 644.85 351.51 646.51 351.25 C648.18 351.00 650.27 350.71 651.51 350.53 C652.76 350.35 653.59 350.25 654.00 350.19" stroke="#2280e4" stroke-width="1.0" fill="none" stroke-linejoin="round" stroke-linecap="round"/>
<path d="M536.60 399.00 C537.44 398.29 539.94 396.12 541.60 394.77 C543.27 393.41 544.94 392.12 546.60 390.87 C548.27 389.63 549.94 388.43 551.60 387.29 C553.27 386.14 554.94 385.05 556.60 383.99 C558.27 382.94 559.94 381.93 561.60 380.96 C563.27 379.99 564.94 379.06 566.60 378.17 C568.27 377.27 569.94 376.42 571.60 375.60 C573.27 374.78 574.94 373.99 576.60 373.24 C578.27 372.48 579.94 371.76 581.60 371.06 C583.27 370.37 584.94 369.70 586.60 369.06 C588.27 368.42 589.94 367.81 591.60 367.22 C593.27 366.63 594.94 366.07 596.60 365.53 C598.27 364.99 599.94 364.47 601.60 363.97 C603.27 363.47 604.94 363.00 606.60 362.54 C608.27 362.08 609.94 361.64 611.60 361.22 C613.27 360.80 614.94 360.40 616.60 360.01 C618.27 359.62 619.94 359.25 621.60 358.89 C623.27 358.54 624.94 358.19 626.60 357.87 C628.27 357.54 629.94 357.22 631.60 356.92 C633.27 356.62 634.94 356.33 636.60 356.05 C638.27 355.77 639.94 355.51 641.60 355.25 C643.27 355.00 644.94 354.75 646.60 354.52 C648.27 354.28 650.37 354.00 651.60 353.84 C652.84 353.68 653.60 353.59 654.00 353.54" stroke="#2280e4" stroke-width="1.0" fill="none" stroke-linejoin="round" stroke-linecap="round"/>
<path d="M549.80 399.00 C550.63 398.28 553.13 396.05 554.80 394.66 C556.46 393.27 558.13 391.94 559.80 390.67 C561.46 389.39 563.13 388.17 564.80 386.99 C566.46 385.82 568.13 384.69 569.80 383.61 C571.46 382.53 573.13 381.50 574.80 380.50 C576.46 379.51 578.13 378.56 579.80 377.64 C581.46 376.73 583.13 375.85 584.80 375.01 C586.46 374.17 588.13 373.36 589.80 372.59 C591.46 371.81 593.13 371.07 594.80 370.36 C596.46 369.65 598.13 368.96 599.80 368.31 C601.46 367.65 603.13 367.03 604.80 366.42 C606.46 365.82 608.13 365.24 609.80 364.69 C611.46 364.13 613.13 363.60 614.80 363.09 C616.46 362.58 618.13 362.09 619.80 361.62 C621.46 361.15 623.13 360.70 624.80 360.27 C626.46 359.84 628.13 359.42 629.80 359.03 C631.46 358.63 633.13 358.25 634.80 357.88 C636.46 357.52 638.13 357.17 639.80 356.83 C641.46 356.49 643.13 356.17 644.80 355.86 C646.46 355.55 648.26 355.23 649.80 354.97 C651.33 354.71 653.30 354.39 654.00 354.28" stroke="#2280e4" stroke-width="1.0" fill="none" stroke-linejoin="round" stroke-linecap="round"/>
<path d="M549.24 399.00 C550.07 398.33 552.57 396.27 554.24 394.99 C555.90 393.71 557.57 392.48 559.24 391.30 C560.90 390.12 562.57 388.99 564.24 387.91 C565.90 386.82 567.57 385.78 569.24 384.78 C570.90 383.78 572.57 382.83 574.24 381.91 C575.90 380.99 577.57 380.11 579.24 379.26 C580.90 378.42 582.57 377.61 584.24 376.83 C585.90 376.05 587.57 375.31 589.24 374.59 C590.90 373.88 592.57 373.19 594.24 372.54 C595.90 371.88 597.57 371.25 599.24 370.64 C600.90 370.04 602.57 369.46 604.24 368.90 C605.90 368.34 607.57 367.81 609.24 367.29 C610.90 366.78 612.57 366.29 614.24 365.82 C615.90 365.35 617.57 364.90 619.24 364.46 C620.90 364.03 622.57 363.61 624.24 363.21 C625.90 362.81 627.57 362.43 629.24 362.06 C630.90 361.70 632.57 361.35 634.24 361.01 C635.90 360.67 637.57 360.35 639.24 360.03 C640.90 359.72 642.57 359.43 644.24 359.14 C645.90 358.85 647.61 358.57 649.24 358.32 C650.87 358.06 653.21 357.71 654.00 357.59" stroke="#2280e4" stroke-width="1.0" fill="none" stroke-linejoin="round" stroke-linecap="round"/>
<path d="M557.07 399.00 C557.90 398.39 560.40 396.52 562.07 395.35 C563.74 394.18 565.40 393.06 567.07 391.98 C568.74 390.91 570.40 389.88 572.07 388.89 C573.74 387.90 575.40 386.96 577.07 386.04 C578.74 385.13 580.40 384.26 582.07 383.43 C583.74 382.59 585.40 381.79 587.07 381.02 C588.74 380.25 590.40 379.51 592.07 378.80 C593.74 378.09 595.40 377.41 597.07 376.76 C598.74 376.11 600.40 375.49 602.07 374.89 C603.74 374.28 605.40 373.71 607.07 373.16 C608.74 372.61 610.40 372.08 612.07 371.57 C613.74 371.06 615.40 370.58 617.07 370.11 C618.74 369.64 620.40 369.20 622.07 368.77 C623.74 368.33 625.40 367.92 627.07 367.53 C628.74 367.13 630.40 366.75 632.07 366.39 C633.74 366.03 635.40 365.68 637.07 365.34 C638.74 365.01 640.40 364.69 642.07 364.38 C643.74 364.07 645.40 363.78 647.07 363.49 C648.74 363.21 650.92 362.86 652.07 362.68 C653.23 362.49 653.68 362.43 654.00 362.38" stroke="#2280e4" stroke-width="1.0" fill="none" stroke-linejoin="round" stroke-linecap="round"/>
<path d="M562.61 399.00 C563.44 398.41 565.94 396.60 567.61 395.47 C569.27 394.34 570.94 393.26 572.61 392.22 C574.27 391.18 575.94 390.19 577.61 389.24 C579.27 388.28 580.94 387.37 582.61 386.49 C584.27 385.61 585.94 384.77 587.61 383.96 C589.27 383.15 590.94 382.38 592.61 381.63 C594.27 380.89 595.94 380.18 597.61 379.49 C599.27 378.81 600.94 378.15 602.61 377.52 C604.27 376.89 605.94 376.29 607.61 375.71 C609.27 375.13 610.94 374.58 612.61 374.04 C614.27 373.51 615.94 373.00 617.61 372.51 C619.27 372.02 620.94 371.55 622.61 371.10 C624.27 370.65 625.94 370.22 627.61 369.80 C629.27 369.38 630.94 368.99 632.61 368.61 C634.27 368.22 635.94 367.86 637.61 367.51 C639.27 367.15 640.94 366.82 642.61 366.50 C644.27 366.17 645.94 365.86 647.61 365.57 C649.27 365.27 651.54 364.89 652.61 364.71 C653.67 364.53 653.77 364.52 654.00 364.48" stroke="#2280e4" stroke-width="1.0" fill="none" stroke-linejoin="round" stroke-linecap="round"/>
<path d="M564.82 399.00 C565.66 398.44 568.16 396.71 569.82 395.64 C571.49 394.56 573.16 393.54 574.82 392.55 C576.49 391.56 578.16 390.61 579.82 389.70 C581.49 388.79 583.16 387.92 584.82 387.08 C586.49 386.25 588.16 385.45 589.82 384.67 C591.49 383.90 593.16 383.17 594.82 382.46 C596.49 381.75 598.16 381.07 599.82 380.42 C601.49 379.77 603.16 379.14 604.82 378.54 C606.49 377.94 608.16 377.37 609.82 376.82 C611.49 376.27 613.16 375.74 614.82 375.23 C616.49 374.72 618.16 374.24 619.82 373.77 C621.49 373.30 623.16 372.86 624.82 372.43 C626.49 372.00 628.16 371.58 629.82 371.19 C631.49 370.79 633.16 370.42 634.82 370.05 C636.49 369.69 638.16 369.34 639.82 369.00 C641.49 368.67 643.16 368.35 644.82 368.04 C646.49 367.73 648.29 367.42 649.82 367.16 C651.35 366.89 653.30 366.58 654.00 366.47" stroke="#2280e4" stroke-width="1.0" fill="none" stroke-linejoin="round" stroke-linecap="round"/>
<path d="M577.47 399.00 C578.30 398.45 580.80 396.74 582.47 395.68 C584.14 394.61 585.80 393.60 587.47 392.62 C589.14 391.64 590.80 390.70 592.47 389.80 C594.14 388.90 595.80 388.04 597.47 387.21 C599.14 386.39 600.80 385.59 602.47 384.83 C604.14 384.07 605.80 383.34 607.47 382.64 C609.14 381.94 610.80 381.27 612.47 380.63 C614.14 379.98 615.80 379.36 617.47 378.77 C619.14 378.18 620.80 377.61 622.47 377.06 C624.14 376.52 625.80 376.00 627.47 375.49 C629.14 374.99 630.80 374.51 632.47 374.05 C634.14 373.59 635.80 373.14 637.47 372.72 C639.14 372.29 640.80 371.89 642.47 371.50 C644.14 371.11 645.80 370.73 647.47 370.37 C649.14 370.01 651.38 369.56 652.47 369.34 C653.56 369.11 653.74 369.09 654.00 369.04" stroke="#2280e4" stroke-width="1.0" fill="none" stroke-linejoin="round" stroke-linecap="round"/>
<path d="M581.68 399.00 C582.51 398.47 585.01 396.85 586.68 395.84 C588.34 394.82 590.01 393.86 591.68 392.92 C593.34 391.99 595.01 391.10 596.68 390.25 C598.34 389.39 600.01 388.57 601.68 387.78 C603.34 386.99 605.01 386.24 606.68 385.51 C608.34 384.79 610.01 384.10 611.68 383.43 C613.34 382.76 615.01 382.12 616.68 381.51 C618.34 380.89 620.01 380.31 621.68 379.74 C623.34 379.18 625.01 378.64 626.68 378.12 C628.34 377.60 630.01 377.10 631.68 376.62 C633.34 376.15 635.01 375.69 636.68 375.25 C638.34 374.81 640.01 374.39 641.68 373.98 C643.34 373.58 645.01 373.19 646.68 372.82 C648.34 372.45 650.45 372.00 651.68 371.75 C652.90 371.49 653.61 371.36 654.00 371.28" stroke="#2280e4" stroke-width="1.0" fill="none" stroke-linejoin="round" stroke-linecap="round"/>
<path d="M580.38 399.00 C581.21 398.53 583.71 397.10 585.38 396.21 C587.04 395.31 588.71 394.46 590.38 393.64 C592.04 392.81 593.71 392.03 595.38 391.27 C597.04 390.51 598.71 389.79 600.38 389.10 C602.04 388.40 603.71 387.73 605.38 387.09 C607.04 386.45 608.71 385.84 610.38 385.25 C612.04 384.66 613.71 384.10 615.38 383.56 C617.04 383.02 618.71 382.50 620.38 382.00 C622.04 381.50 623.71 381.02 625.38 380.57 C627.04 380.11 628.71 379.67 630.38 379.25 C632.04 378.82 633.71 378.42 635.38 378.03 C637.04 377.64 638.71 377.27 640.38 376.91 C642.04 376.56 643.71 376.22 645.38 375.89 C647.04 375.56 648.94 375.21 650.38 374.94 C651.81 374.68 653.40 374.41 654.00 374.30" stroke="#2280e4" stroke-width="1.0" fill="none" stroke-linejoin="round" stroke-linecap="round"/>
<path d="M591.12 399.00 C591.95 398.55 594.45 397.17 596.12 396.31 C597.79 395.45 599.45 394.63 601.12 393.83 C602.79 393.04 604.45 392.28 606.12 391.55 C607.79 390.83 609.45 390.13 611.12 389.46 C612.79 388.79 614.45 388.15 616.12 387.53 C617.79 386.91 619.45 386.32 621.12 385.76 C622.79 385.19 624.45 384.65 626.12 384.12 C627.79 383.60 629.45 383.10 631.12 382.62 C632.79 382.14 634.45 381.68 636.12 381.24 C637.79 380.80 639.45 380.38 641.12 379.97 C642.79 379.56 644.45 379.17 646.12 378.80 C647.79 378.42 649.81 378.00 651.12 377.72 C652.43 377.45 653.52 377.24 654.00 377.14" stroke="#2280e4" stroke-width="1.0" fill="none" stroke-linejoin="round" stroke-linecap="round"/>
<path d="M590.99 399.00 C591.83 398.58 594.33 397.27 595.99 396.46 C597.66 395.65 599.33 394.87 600.99 394.12 C602.66 393.38 604.33 392.66 605.99 391.97 C607.66 391.29 609.33 390.63 610.99 390.00 C612.66 389.36 614.33 388.76 615.99 388.18 C617.66 387.59 619.33 387.04 620.99 386.50 C622.66 385.97 624.33 385.45 625.99 384.96 C627.66 384.47 629.33 384.00 630.99 383.54 C632.66 383.09 634.33 382.66 635.99 382.24 C637.66 381.82 639.33 381.43 640.99 381.04 C642.66 380.66 644.33 380.29 645.99 379.94 C647.66 379.58 649.66 379.19 650.99 378.92 C652.33 378.66 653.50 378.45 654.00 378.35" stroke="#2280e4" stroke-width="1.0" fill="none" stroke-linejoin="round" stroke-linecap="round"/>
<path d="M600.89 399.00 C601.72 398.63 604.22 397.48 605.89 396.77 C607.55 396.06 609.22 395.38 610.89 394.72 C612.55 394.06 614.22 393.44 615.89 392.83 C617.55 392.23 619.22 391.65 620.89 391.10 C622.55 390.54 624.22 390.01 625.89 389.50 C627.55 388.99 629.22 388.50 630.89 388.03 C632.55 387.56 634.22 387.11 635.89 386.68 C637.55 386.24 639.22 385.83 640.89 385.43 C642.55 385.04 644.22 384.66 645.89 384.29 C647.55 383.92 649.53 383.51 650.89 383.24 C652.24 382.96 653.48 382.73 654.00 382.62" stroke="#2280e4" stroke-width="1.0" fill="none" stroke-linejoin="round" stroke-linecap="round"/>
<path d="M610.42 399.00 C611.25 398.63 613.75 397.50 615.42 396.80 C617.09 396.09 618.75 395.42 620.42 394.77 C622.09 394.12 623.75 393.50 625.42 392.90 C627.09 392.30 628.75 391.73 630.42 391.18 C632.09 390.63 633.75 390.11 635.42 389.60 C637.09 389.10 638.75 388.61 640.42 388.15 C642.09 387.68 643.75 387.24 645.42 386.81 C647.09 386.38 648.99 385.92 650.42 385.58 C651.85 385.24 653.40 384.90 654.00 384.76" stroke="#2280e4" stroke-width="1.0" fill="none" stroke-linejoin="round" stroke-linecap="round"/>
<path d="M616.32 399.00 C617.15 398.67 619.65 397.64 621.32 397.00 C622.98 396.36 624.65 395.75 626.32 395.16 C627.98 394.57 629.65 394.01 631.32 393.46 C632.98 392.92 634.65 392.40 636.32 391.90 C637.98 391.41 639.65 390.93 641.32 390.47 C642.98 390.01 644.65 389.57 646.32 389.15 C647.98 388.73 650.04 388.24 651.32 387.94 C652.60 387.63 653.55 387.43 654.00 387.33" stroke="#2280e4" stroke-width="1.0" fill="none" stroke-linejoin="round" stroke-linecap="round"/>
<path d="M620.59 399.00 C621.42 398.69 623.92 397.72 625.59 397.12 C627.25 396.52 628.92 395.94 630.59 395.39 C632.25 394.83 633.92 394.30 635.59 393.79 C637.25 393.28 638.92 392.80 640.59 392.33 C642.25 391.86 643.92 391.41 645.59 390.98 C647.25 390.55 649.19 390.08 650.59 389.74 C651.99 389.40 653.43 389.08 654.00 388.95" stroke="#2280e4" stroke-width="1.0" fill="none" stroke-linejoin="round" stroke-linecap="round"/>
<path d="M627.41 399.00 C628.24 398.73 630.74 397.89 632.41 397.36 C634.08 396.84 635.74 396.34 637.41 395.86 C639.08 395.38 640.74 394.92 642.41 394.47 C644.08 394.03 645.74 393.61 647.41 393.20 C649.08 392.79 651.31 392.28 652.41 392.03 C653.51 391.77 653.73 391.73 654.00 391.68" stroke="#2280e4" stroke-width="1.0" fill="none" stroke-linejoin="round" stroke-linecap="round"/>
<path d="M624.50 399.00 C625.33 398.88 627.83 398.52 629.50 398.29 C631.17 398.06 632.83 397.85 634.50 397.64 C636.17 397.43 637.83 397.23 639.50 397.04 C641.17 396.85 642.83 396.66 644.50 396.49 C646.17 396.31 647.92 396.13 649.50 395.98 C651.08 395.82 653.25 395.63 654.00 395.56" stroke="#2280e4" stroke-width="1.0" fill="none" stroke-linejoin="round" stroke-linecap="round"/>
<path d="M631.17 399.00 C632.00 398.87 634.50 398.47 636.17 398.22 C637.84 397.97 639.50 397.73 641.17 397.50 C642.84 397.27 644.50 397.05 646.17 396.84 C647.84 396.63 649.86 396.39 651.17 396.23 C652.47 396.08 653.53 395.96 654.00 395.91" stroke="#2280e4" stroke-width="1.0" fill="none" stroke-linejoin="round" stroke-linecap="round"/>
<path d="M635.20 240.00 L652.20 357.00" stroke="#1a1a1a" stroke-width="0.7" fill="none"/>
<path d="M617.80 258.20 L637.50 307.30" stroke="#1a1a1a" stroke-width="0.7" fill="none"/>
<path d="M618.80 258.20 L644.00 318.00" stroke="#1a1a1a" stroke-width="0.7" fill="none"/>
<path d="M607.50 277.20 L630.40 320.00" stroke="#1a1a1a" stroke-width="0.7" fill="none"/>
<path d="M608.50 277.20 L645.40 321.50" stroke="#1a1a1a" stroke-width="0.7" fill="none"/>
<path d="M602.70 300.20 L620.90 322.30" stroke="#1a1a1a" stroke-width="0.7" fill="none"/>
<path d="M603.50 300.20 L614.00 324.20" stroke="#1a1a1a" stroke-width="0.7" fill="none"/>
<path d="M595.00 321.80 L604.20 331.50" stroke="#1a1a1a" stroke-width="0.7" fill="none"/>
<path d="M595.00 321.80 L597.00 334.00" stroke="#1a1a1a" stroke-width="0.7" fill="none"/>
<path d="M582.40 338.30 L635.80 358.20" stroke="#1a1a1a" stroke-width="0.7" fill="none"/>
<path d="M571.50 351.40 L618.80 358.20" stroke="#1a1a1a" stroke-width="0.7" fill="none"/>
<path d="M491.60 301.00 L537.70 323.80" stroke="#1a1a1a" stroke-width="0.7" fill="none"/>
<path d="M528.60 359.50V366.50H588.70V359.50M558.65 366.50V373.70" stroke="#333" stroke-width="1" fill="none"/>
<path d="M183.20 599.10 C184.83 595.42 189.65 584.25 193.00 577.00 C196.35 569.75 200.47 561.60 203.30 555.60 C206.13 549.60 207.77 545.82 210.00 541.00 C212.23 536.18 214.53 531.03 216.70 526.70 C218.87 522.37 220.82 518.72 223.00 515.00 C225.18 511.28 227.27 508.48 229.80 504.40 C232.33 500.32 235.53 494.33 238.20 490.50 C240.87 486.67 243.28 484.07 245.80 481.40 C248.32 478.73 250.53 476.65 253.30 474.50 C256.07 472.35 259.12 470.38 262.40 468.50 C265.68 466.62 269.20 464.72 273.00 463.20 C276.80 461.68 280.90 460.42 285.20 459.40 C289.50 458.38 294.13 457.73 298.80 457.10 C303.47 456.47 310.80 455.85 313.20 455.60" stroke="#2280e4" stroke-width="1.4" fill="none" stroke-linejoin="round" stroke-linecap="round"/>
<path d="M189.70 594.20 C190.92 590.67 194.73 579.43 197.00 573.00 C199.27 566.57 202.25 558.50 203.30 555.60" stroke="#2280e4" stroke-width="1" fill="none" stroke-linejoin="round" stroke-linecap="round"/>
<path d="M182.40 599.70 L189.00 596.00" stroke="#2280e4" stroke-width="1" fill="none" stroke-linejoin="round" stroke-linecap="round"/>
<path d="M283.90 608.60 C285.15 602.77 289.45 582.43 291.40 573.60 C293.35 564.77 293.67 560.90 295.60 555.60 C297.53 550.30 300.00 546.75 303.00 541.80 C306.00 536.85 311.83 528.55 313.60 525.90" stroke="#2280e4" stroke-width="1.2" fill="none" stroke-linejoin="round" stroke-linecap="round"/>
<path d="M290.30 573.60 C291.53 570.60 295.25 560.70 297.70 555.60 C300.15 550.50 302.35 546.53 305.00 543.00 C307.65 539.47 312.17 535.83 313.60 534.40" stroke="#2280e4" stroke-width="1.2" fill="none" stroke-linejoin="round" stroke-linecap="round"/>
<path d="M306.20 589.50 L313.60 570.50" stroke="#2280e4" stroke-width="1.2" fill="none" stroke-linejoin="round" stroke-linecap="round"/>
<path d="M30.4 557.5 L37.6 582 L37.6 612 L30.4 585 Z" fill="#1a7ff0" stroke="#1a7ff0" stroke-width="0.8"/>
<path d="M44.90 605.50 L51.50 605.50" stroke="#2280e4" stroke-width="1.1" fill="none" stroke-linejoin="round" stroke-linecap="round"/>
<path d="M52.20 610.30 L59.90 598.90 L66.00 600.10" stroke="#2280e4" stroke-width="1.1" fill="none" stroke-linejoin="round" stroke-linecap="round"/>
<path d="M89.00 595.80 L96.30 580.00 L110.80 577.10 L130.20 583.60 L139.50 590.90" stroke="#2280e4" stroke-width="1.1" fill="none" stroke-linejoin="round" stroke-linecap="round"/>
<path d="M74.00 594.50 L81.30 589.70 L89.00 594.50 L95.10 603.00" stroke="#2280e4" stroke-width="1.1" fill="none" stroke-linejoin="round" stroke-linecap="round"/>
<path d="M153.30 607.00 L161.20 610.60" stroke="#2280e4" stroke-width="1.1" fill="none" stroke-linejoin="round" stroke-linecap="round"/>
<path d="M168.50 596.10 L175.40 582.70 L183.60 591.80 L189.70 597.30" stroke="#2280e4" stroke-width="1.1" fill="none" stroke-linejoin="round" stroke-linecap="round"/>
<path d="M74.10 610.20 L80.90 602.10 L88.40 600.00 L95.20 609.60" stroke="#2280e4" stroke-width="1.1" fill="none" stroke-linejoin="round" stroke-linecap="round"/>
<path d="M80.90 609.60 L88.40 602.70 L95.90 605.50 L103.40 606.20 L110.00 607.00" stroke="#2280e4" stroke-width="1.1" fill="none" stroke-linejoin="round" stroke-linecap="round"/>
<path d="M103.40 610.20 L110.90 599.70 L117.10 598.00 L124.60 604.10 L130.00 609.60" stroke="#2280e4" stroke-width="1.1" fill="none" stroke-linejoin="round" stroke-linecap="round"/>
<path d="M124.60 602.00 L131.40 598.00 L138.90 594.60 L146.40 600.70" stroke="#2280e4" stroke-width="1.1" fill="none" stroke-linejoin="round" stroke-linecap="round"/>
<path d="M110.90 608.20 L117.10 602.70 L121.80 601.40 L127.30 604.80 L131.40 610.90" stroke="#2280e4" stroke-width="1.1" fill="none" stroke-linejoin="round" stroke-linecap="round"/>
<path d="M110.00 610.00 L115.00 605.00 L120.00 603.50 L125.00 606.00 L130.00 609.00" stroke="#2280e4" stroke-width="1.1" fill="none" stroke-linejoin="round" stroke-linecap="round"/>
<path d="M113.00 609.00 L118.00 604.50 L124.00 605.00 L130.00 607.50 L136.00 611.00" stroke="#2280e4" stroke-width="1.1" fill="none" stroke-linejoin="round" stroke-linecap="round"/>
<path d="M116.00 610.50 L121.00 606.00 L127.00 607.00 L133.00 610.50" stroke="#2280e4" stroke-width="1.1" fill="none" stroke-linejoin="round" stroke-linecap="round"/>
<path d="M132.80 608.20 L138.20 607.50 L146.40 608.20" stroke="#2280e4" stroke-width="1.1" fill="none" stroke-linejoin="round" stroke-linecap="round"/>
<path d="M138.20 610.20 L146.40 610.20" stroke="#2280e4" stroke-width="1.1" fill="none" stroke-linejoin="round" stroke-linecap="round"/>
<path d="M89.00 606.00 L96.00 602.00 L103.00 604.50" stroke="#2280e4" stroke-width="1.1" fill="none" stroke-linejoin="round" stroke-linecap="round"/>
<path d="M166.70 500.70 L216.70 527.30" stroke="#1a1a1a" stroke-width="0.7" fill="none"/>
<path d="M289.20 537.60 L297.70 548.20" stroke="#1a1a1a" stroke-width="0.7" fill="none"/>
<path d="M289.20 537.60 L304.10 545.00" stroke="#1a1a1a" stroke-width="0.7" fill="none"/>
<path d="M202.90 556.40V563.50H295.20V556.40M249.05 563.50V570.30" stroke="#333" stroke-width="1" fill="none"/>
<path d="M26.50 2.70H316.50" stroke="#e8e8e8" stroke-width="1" fill="none"/>
<path d="M26.60 2.20V186.20" stroke="#8a8a8a" stroke-width="1.8" fill="none"/>
<path d="M25.80 185.50H317.00" stroke="#747474" stroke-width="1.5" fill="none"/>
<text x="37.5" y="25.5" font-size="17" font-weight="bold" fill="#000">A</text>
<path d="M367.50 3.50H657.60" stroke="#e8e8e8" stroke-width="1" fill="none"/>
<path d="M367.40 3.00V185.70" stroke="#6a6a6a" stroke-width="1.3" fill="none"/>
<path d="M366.80 185.00H658.10" stroke="#747474" stroke-width="1.5" fill="none"/>
<text x="378.4" y="25.5" font-size="17" font-weight="bold" fill="#000">B</text>
<path d="M26.50 216.10H317.10" stroke="#e8e8e8" stroke-width="1" fill="none"/>
<path d="M26.80 215.60V399.70" stroke="#999999" stroke-width="2.0" fill="none"/>
<path d="M25.80 399.00H317.60" stroke="#747474" stroke-width="1.5" fill="none"/>
<text x="37.6" y="238.5" font-size="17" font-weight="bold" fill="#000">C</text>
<path d="M367.50 216.40H657.60" stroke="#e8e8e8" stroke-width="1" fill="none"/>
<path d="M367.40 215.90V399.70" stroke="#6d6d6d" stroke-width="1.3" fill="none"/>
<path d="M366.80 399.00H658.10" stroke="#747474" stroke-width="1.5" fill="none"/>
<text x="378.2" y="239.2" font-size="17" font-weight="bold" fill="#000">D</text>
<path d="M26.70 429.40H317.30" stroke="#e8e8e8" stroke-width="1" fill="none"/>
<path d="M26.80 428.90V613.10" stroke="#9a9a9a" stroke-width="2.0" fill="none"/>
<path d="M26.00 612.40H317.80" stroke="#747474" stroke-width="1.5" fill="none"/>
<text x="37.8" y="452.2" font-size="17" font-weight="bold" fill="#000">E</text>
<text x="122.40" y="66.40" font-size="12" fill="#111">Sika deer</text>
<text x="120.00" y="87.60" font-size="12" fill="#111">Ct = 24.75</text>
<text x="260.60" y="73.60" font-size="12" fill="#111">Reindeer</text>
<text x="266.40" y="92.10" font-size="12" fill="#111">Moose</text>
<text x="222.20" y="110.80" font-size="12" fill="#111">Fallow deer</text>
<text x="226.50" y="129.20" font-size="12" fill="#111">Red deer</text>
<text x="215.90" y="172.70" font-size="12" fill="#111">ΔCt = 11.79</text>
<text x="451.80" y="80.20" font-size="12" fill="#111">Sika deer</text>
<text x="449.10" y="100.70" font-size="12" fill="#111">Ct = 26.74</text>
<text x="586.80" y="73.00" font-size="12" fill="#111">Red deer</text>
<text x="565.00" y="105.90" font-size="12" fill="#111">Reindeer</text>
<text x="543.30" y="163.10" font-size="12" fill="#111">ΔCt = 12.06</text>
<text x="122.70" y="305.90" font-size="12" fill="#111">Sika deer</text>
<text x="120.20" y="326.70" font-size="12" fill="#111">Ct = 25.36</text>
<text x="273.50" y="292.60" font-size="12" fill="#111">Moose</text>
<text x="251.30" y="310.50" font-size="12" fill="#111">Reindeer</text>
<text x="227.60" y="331.30" font-size="12" fill="#111">Fallow deer</text>
<text x="222.50" y="350.80" font-size="12" fill="#111">Red deer</text>
<text x="210.60" y="393.60" font-size="12" fill="#111">ΔCt = 9.09</text>
<text x="438.10" y="299.80" font-size="12" fill="#111">Sika deer</text>
<text x="435.60" y="320.90" font-size="12" fill="#111">Ct = 25.62</text>
<text x="609.60" y="238.60" font-size="12" fill="#111">Hare</text>
<text x="572.70" y="257.30" font-size="12" fill="#111">Reindeer</text>
<text x="573.90" y="275.90" font-size="12" fill="#111">Moose</text>
<text x="548.50" y="299.20" font-size="12" fill="#111">Fallow deer</text>
<text x="548.50" y="317.90" font-size="12" fill="#111">Red deer</text>
<text x="548.50" y="335.90" font-size="12" fill="#111">Sheep</text>
<text x="542.90" y="352.10" font-size="12" fill="#111">Duck</text>
<text x="530.30" y="390.20" font-size="12" fill="#111">ΔCt = 9.85</text>
<text x="112.70" y="499.00" font-size="12" fill="#111">Sika deer</text>
<text x="109.30" y="520.00" font-size="12" fill="#111">Ct = 24.72</text>
<text x="240.50" y="535.00" font-size="12" fill="#111">Red deer</text>
<text x="217.10" y="588.10" font-size="12" fill="#111">ΔCt = 13.00</text>
</svg>
</body></html>
